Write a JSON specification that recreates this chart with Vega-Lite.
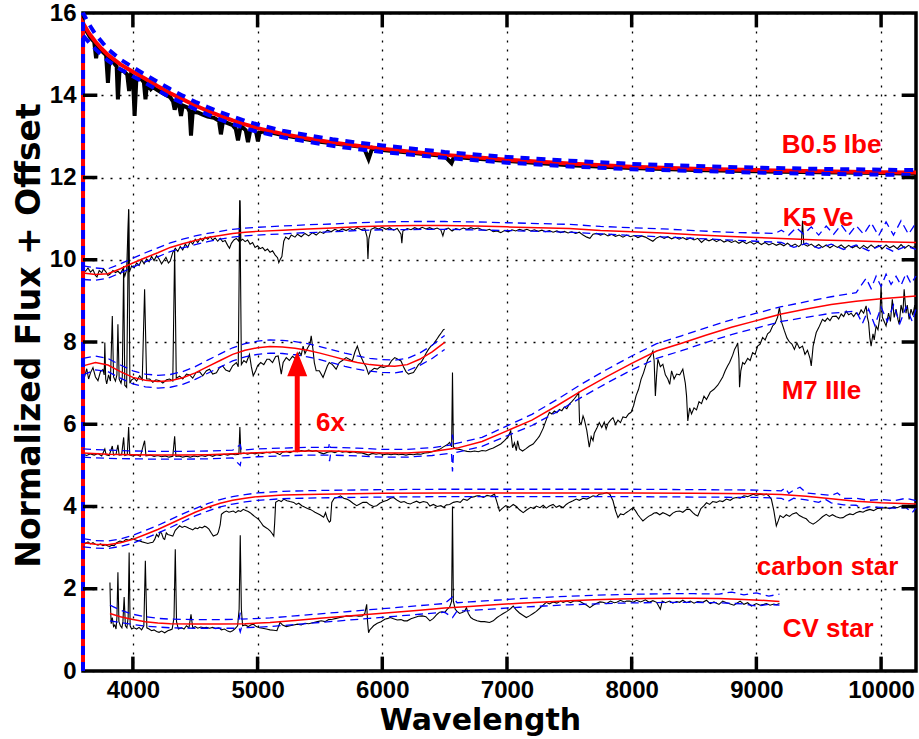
{
"$schema": "https://vega.github.io/schema/vega-lite/v6.json",
"width": 833, "height": 658,
"autosize": {"type": "none"},
"padding": {"left": 83, "top": 13, "right": 3, "bottom": 68},
"background": "white",
"config": {"view": {"stroke": "black", "strokeWidth": 3.5}},
"datasets": {
"obs": [
{"s":"B","x":3600,"y":15.72},{"s":"B","x":3630,"y":15.55},{"s":"B","x":3660,"y":15.4},{"s":"B","x":3690,"y":15.3},{"s":"B","x":3705,"y":14.9},{"s":"B","x":3720,"y":15.2},{"s":"B","x":3760,"y":15.05},{"s":"B","x":3785,"y":14.98},{"s":"B","x":3800,"y":14.3},{"s":"B","x":3812,"y":14.9},{"s":"B","x":3850,"y":14.78},{"s":"B","x":3870,"y":14.7},{"s":"B","x":3880,"y":13.9},{"s":"B","x":3893,"y":14.62},{"s":"B","x":3930,"y":14.58},{"s":"B","x":3955,"y":14.5},{"s":"B","x":3970,"y":14.1},{"s":"B","x":3985,"y":14.5},{"s":"B","x":4000,"y":14.45},{"s":"B","x":4014,"y":13.5},{"s":"B","x":4028,"y":14.4},{"s":"B","x":4060,"y":14.42},{"s":"B","x":4088,"y":14.32},{"s":"B","x":4101,"y":13.9},{"s":"B","x":4114,"y":14.3},{"s":"B","x":4144,"y":14.15},{"s":"B","x":4160,"y":14.2},{"s":"B","x":4200,"y":14.12},{"s":"B","x":4250,"y":14.03},{"s":"B","x":4300,"y":13.95},{"s":"B","x":4322,"y":13.85},{"s":"B","x":4335,"y":13.65},{"s":"B","x":4350,"y":13.82},{"s":"B","x":4370,"y":13.78},{"s":"B","x":4386,"y":13.5},{"s":"B","x":4400,"y":13.75},{"s":"B","x":4440,"y":13.7},{"s":"B","x":4455,"y":13.6},{"s":"B","x":4466,"y":13.02},{"s":"B","x":4480,"y":13.6},{"s":"B","x":4520,"y":13.58},{"s":"B","x":4560,"y":13.53},{"s":"B","x":4600,"y":13.48},{"s":"B","x":4650,"y":13.45},{"s":"B","x":4690,"y":13.38},{"s":"B","x":4706,"y":13.05},{"s":"B","x":4722,"y":13.36},{"s":"B","x":4760,"y":13.32},{"s":"B","x":4800,"y":13.27},{"s":"B","x":4825,"y":13.18},{"s":"B","x":4843,"y":12.9},{"s":"B","x":4860,"y":13.18},{"s":"B","x":4880,"y":13.22},{"s":"B","x":4905,"y":13.15},{"s":"B","x":4923,"y":12.86},{"s":"B","x":4940,"y":13.12},{"s":"B","x":4970,"y":13.18},{"s":"B","x":4990,"y":13.08},{"s":"B","x":5003,"y":12.88},{"s":"B","x":5015,"y":13.08},{"s":"B","x":5040,"y":13.12},{"s":"B","x":5060,"y":13.1},{"s":"B","x":5100,"y":13.1},{"s":"B","x":5200,"y":13.03},{"s":"B","x":5500,"y":12.87},{"s":"B","x":5850,"y":12.74},{"s":"B","x":5890,"y":12.45},{"s":"B","x":5920,"y":12.72},{"s":"B","x":6000,"y":12.67},{"s":"B","x":6500,"y":12.52},{"s":"B","x":6555,"y":12.35},{"s":"B","x":6575,"y":12.5},{"s":"B","x":7000,"y":12.4},{"s":"B","x":7500,"y":12.3},{"s":"B","x":8000,"y":12.23},{"s":"B","x":8500,"y":12.18},{"s":"B","x":9000,"y":12.15},{"s":"B","x":9500,"y":12.13},{"s":"B","x":10000,"y":12.11},{"s":"B","x":10280,"y":12.09},
{"s":"K","x":3600,"y":9.77},{"s":"K","x":3620,"y":9.72},{"s":"K","x":3640,"y":9.8},{"s":"K","x":3660,"y":9.7},{"s":"K","x":3680,"y":9.76},{"s":"K","x":3700,"y":9.62},{"s":"K","x":3712,"y":9.58},{"s":"K","x":3730,"y":9.74},{"s":"K","x":3750,"y":9.68},{"s":"K","x":3765,"y":9.78},{"s":"K","x":3785,"y":9.7},{"s":"K","x":3800,"y":9.62},{"s":"K","x":3820,"y":9.66},{"s":"K","x":3840,"y":9.74},{"s":"K","x":3860,"y":9.69},{"s":"K","x":3880,"y":9.72},{"s":"K","x":3900,"y":9.66},{"s":"K","x":3920,"y":9.78},{"s":"K","x":3935,"y":9.6},{"s":"K","x":3950,"y":9.75},{"s":"K","x":3966,"y":11.22},{"s":"K","x":3972,"y":9.7},{"s":"K","x":3990,"y":9.85},{"s":"K","x":4010,"y":9.8},{"s":"K","x":4030,"y":9.92},{"s":"K","x":4050,"y":9.86},{"s":"K","x":4070,"y":10.0},{"s":"K","x":4090,"y":9.9},{"s":"K","x":4110,"y":10.02},{"s":"K","x":4130,"y":9.95},{"s":"K","x":4150,"y":10.08},{"s":"K","x":4170,"y":9.98},{"s":"K","x":4190,"y":10.1},{"s":"K","x":4210,"y":10.02},{"s":"K","x":4230,"y":9.9},{"s":"K","x":4245,"y":9.97},{"s":"K","x":4265,"y":10.06},{"s":"K","x":4285,"y":9.92},{"s":"K","x":4300,"y":9.97},{"s":"K","x":4320,"y":10.18},{"s":"K","x":4340,"y":10.28},{"s":"K","x":4360,"y":10.2},{"s":"K","x":4380,"y":10.32},{"s":"K","x":4400,"y":10.24},{"s":"K","x":4420,"y":10.38},{"s":"K","x":4440,"y":10.3},{"s":"K","x":4460,"y":10.45},{"s":"K","x":4480,"y":10.38},{"s":"K","x":4500,"y":10.5},{"s":"K","x":4520,"y":10.42},{"s":"K","x":4540,"y":10.52},{"s":"K","x":4560,"y":10.46},{"s":"K","x":4580,"y":10.55},{"s":"K","x":4600,"y":10.5},{"s":"K","x":4620,"y":10.56},{"s":"K","x":4640,"y":10.48},{"s":"K","x":4660,"y":10.53},{"s":"K","x":4680,"y":10.45},{"s":"K","x":4700,"y":10.52},{"s":"K","x":4720,"y":10.44},{"s":"K","x":4740,"y":10.47},{"s":"K","x":4760,"y":10.35},{"s":"K","x":4775,"y":10.28},{"s":"K","x":4790,"y":10.4},{"s":"K","x":4810,"y":10.48},{"s":"K","x":4830,"y":10.52},{"s":"K","x":4850,"y":10.45},{"s":"K","x":4858,"y":11.45},{"s":"K","x":4866,"y":10.46},{"s":"K","x":4880,"y":10.5},{"s":"K","x":4900,"y":10.44},{"s":"K","x":4920,"y":10.48},{"s":"K","x":4940,"y":10.38},{"s":"K","x":4960,"y":10.42},{"s":"K","x":4980,"y":10.3},{"s":"K","x":5000,"y":10.34},{"s":"K","x":5020,"y":10.27},{"s":"K","x":5040,"y":10.3},{"s":"K","x":5060,"y":10.22},{"s":"K","x":5080,"y":10.26},{"s":"K","x":5100,"y":10.18},{"s":"K","x":5120,"y":10.22},{"s":"K","x":5140,"y":10.12},{"s":"K","x":5160,"y":10.05},{"s":"K","x":5170,"y":9.93},{"s":"K","x":5180,"y":10.0},{"s":"K","x":5195,"y":10.08},{"s":"K","x":5210,"y":10.45},{"s":"K","x":5225,"y":10.55},{"s":"K","x":5250,"y":10.5},{"s":"K","x":5270,"y":10.6},{"s":"K","x":5300,"y":10.55},{"s":"K","x":5320,"y":10.62},{"s":"K","x":5350,"y":10.56},{"s":"K","x":5380,"y":10.64},{"s":"K","x":5410,"y":10.58},{"s":"K","x":5440,"y":10.66},{"s":"K","x":5470,"y":10.6},{"s":"K","x":5500,"y":10.68},{"s":"K","x":5530,"y":10.64},{"s":"K","x":5560,"y":10.72},{"s":"K","x":5590,"y":10.68},{"s":"K","x":5620,"y":10.74},{"s":"K","x":5650,"y":10.7},{"s":"K","x":5680,"y":10.75},{"s":"K","x":5710,"y":10.71},{"s":"K","x":5740,"y":10.76},{"s":"K","x":5770,"y":10.72},{"s":"K","x":5800,"y":10.78},{"s":"K","x":5830,"y":10.73},{"s":"K","x":5860,"y":10.76},{"s":"K","x":5878,"y":10.55},{"s":"K","x":5885,"y":10.02},{"s":"K","x":5892,"y":10.5},{"s":"K","x":5910,"y":10.74},{"s":"K","x":5940,"y":10.78},{"s":"K","x":5970,"y":10.75},{"s":"K","x":6000,"y":10.79},{"s":"K","x":6030,"y":10.74},{"s":"K","x":6060,"y":10.78},{"s":"K","x":6090,"y":10.72},{"s":"K","x":6120,"y":10.76},{"s":"K","x":6150,"y":10.62},{"s":"K","x":6157,"y":10.4},{"s":"K","x":6165,"y":10.7},{"s":"K","x":6200,"y":10.76},{"s":"K","x":6230,"y":10.73},{"s":"K","x":6260,"y":10.78},{"s":"K","x":6290,"y":10.74},{"s":"K","x":6320,"y":10.79},{"s":"K","x":6350,"y":10.75},{"s":"K","x":6380,"y":10.78},{"s":"K","x":6410,"y":10.74},{"s":"K","x":6440,"y":10.77},{"s":"K","x":6470,"y":10.72},{"s":"K","x":6486,"y":10.58},{"s":"K","x":6500,"y":10.74},{"s":"K","x":6530,"y":10.77},{"s":"K","x":6560,"y":10.7},{"s":"K","x":6590,"y":10.76},{"s":"K","x":6620,"y":10.73},{"s":"K","x":6650,"y":10.77},{"s":"K","x":6680,"y":10.74},{"s":"K","x":6710,"y":10.78},{"s":"K","x":6740,"y":10.75},{"s":"K","x":6770,"y":10.77},{"s":"K","x":6800,"y":10.73},{"s":"K","x":6830,"y":10.71},{"s":"K","x":6860,"y":10.74},{"s":"K","x":6890,"y":10.68},{"s":"K","x":6920,"y":10.7},{"s":"K","x":6950,"y":10.66},{"s":"K","x":6980,"y":10.71},{"s":"K","x":7010,"y":10.68},{"s":"K","x":7040,"y":10.73},{"s":"K","x":7070,"y":10.7},{"s":"K","x":7100,"y":10.74},{"s":"K","x":7130,"y":10.71},{"s":"K","x":7160,"y":10.74},{"s":"K","x":7190,"y":10.7},{"s":"K","x":7220,"y":10.73},{"s":"K","x":7250,"y":10.69},{"s":"K","x":7280,"y":10.72},{"s":"K","x":7310,"y":10.68},{"s":"K","x":7340,"y":10.71},{"s":"K","x":7370,"y":10.67},{"s":"K","x":7400,"y":10.7},{"s":"K","x":7430,"y":10.66},{"s":"K","x":7460,"y":10.69},{"s":"K","x":7490,"y":10.65},{"s":"K","x":7520,"y":10.68},{"s":"K","x":7550,"y":10.64},{"s":"K","x":7580,"y":10.67},{"s":"K","x":7610,"y":10.6},{"s":"K","x":7640,"y":10.55},{"s":"K","x":7665,"y":10.52},{"s":"K","x":7690,"y":10.62},{"s":"K","x":7720,"y":10.64},{"s":"K","x":7750,"y":10.6},{"s":"K","x":7780,"y":10.63},{"s":"K","x":7810,"y":10.58},{"s":"K","x":7840,"y":10.62},{"s":"K","x":7870,"y":10.57},{"s":"K","x":7900,"y":10.6},{"s":"K","x":7930,"y":10.55},{"s":"K","x":7960,"y":10.6},{"s":"K","x":7990,"y":10.56},{"s":"K","x":8020,"y":10.59},{"s":"K","x":8050,"y":10.54},{"s":"K","x":8080,"y":10.58},{"s":"K","x":8110,"y":10.55},{"s":"K","x":8140,"y":10.5},{"s":"K","x":8170,"y":10.45},{"s":"K","x":8200,"y":10.53},{"s":"K","x":8230,"y":10.57},{"s":"K","x":8260,"y":10.52},{"s":"K","x":8290,"y":10.56},{"s":"K","x":8320,"y":10.51},{"s":"K","x":8350,"y":10.55},{"s":"K","x":8380,"y":10.5},{"s":"K","x":8410,"y":10.54},{"s":"K","x":8440,"y":10.49},{"s":"K","x":8470,"y":10.53},{"s":"K","x":8500,"y":10.48},{"s":"K","x":8530,"y":10.52},{"s":"K","x":8560,"y":10.42},{"s":"K","x":8590,"y":10.5},{"s":"K","x":8620,"y":10.46},{"s":"K","x":8650,"y":10.5},{"s":"K","x":8680,"y":10.44},{"s":"K","x":8710,"y":10.49},{"s":"K","x":8740,"y":10.43},{"s":"K","x":8770,"y":10.47},{"s":"K","x":8800,"y":10.42},{"s":"K","x":8830,"y":10.46},{"s":"K","x":8860,"y":10.4},{"s":"K","x":8890,"y":10.45},{"s":"K","x":8920,"y":10.39},{"s":"K","x":8950,"y":10.44},{"s":"K","x":8980,"y":10.38},{"s":"K","x":9010,"y":10.43},{"s":"K","x":9040,"y":10.37},{"s":"K","x":9070,"y":10.42},{"s":"K","x":9100,"y":10.36},{"s":"K","x":9130,"y":10.4},{"s":"K","x":9160,"y":10.35},{"s":"K","x":9190,"y":10.39},{"s":"K","x":9220,"y":10.34},{"s":"K","x":9250,"y":10.4},{"s":"K","x":9280,"y":10.33},{"s":"K","x":9310,"y":10.38},{"s":"K","x":9340,"y":10.32},{"s":"K","x":9360,"y":10.37},{"s":"K","x":9370,"y":10.95},{"s":"K","x":9380,"y":10.38},{"s":"K","x":9410,"y":10.33},{"s":"K","x":9440,"y":10.38},{"s":"K","x":9470,"y":10.31},{"s":"K","x":9500,"y":10.37},{"s":"K","x":9530,"y":10.3},{"s":"K","x":9560,"y":10.36},{"s":"K","x":9590,"y":10.29},{"s":"K","x":9620,"y":10.35},{"s":"K","x":9650,"y":10.3},{"s":"K","x":9680,"y":10.36},{"s":"K","x":9710,"y":10.28},{"s":"K","x":9740,"y":10.35},{"s":"K","x":9770,"y":10.29},{"s":"K","x":9800,"y":10.34},{"s":"K","x":9830,"y":10.27},{"s":"K","x":9860,"y":10.35},{"s":"K","x":9890,"y":10.28},{"s":"K","x":9920,"y":10.36},{"s":"K","x":9950,"y":10.29},{"s":"K","x":9980,"y":10.35},{"s":"K","x":10010,"y":10.27},{"s":"K","x":10040,"y":10.36},{"s":"K","x":10070,"y":10.29},{"s":"K","x":10100,"y":10.34},{"s":"K","x":10130,"y":10.27},{"s":"K","x":10160,"y":10.37},{"s":"K","x":10190,"y":10.28},{"s":"K","x":10220,"y":10.35},{"s":"K","x":10250,"y":10.3},{"s":"K","x":10280,"y":10.33},
{"s":"M","x":3600,"y":5.27},{"s":"M","x":3630,"y":5.24},{"s":"M","x":3660,"y":5.28},{"s":"M","x":3690,"y":5.25},{"s":"M","x":3720,"y":5.29},{"s":"M","x":3750,"y":5.23},{"s":"M","x":3775,"y":5.4},{"s":"M","x":3785,"y":5.26},{"s":"M","x":3810,"y":5.24},{"s":"M","x":3835,"y":5.47},{"s":"M","x":3845,"y":5.25},{"s":"M","x":3865,"y":5.27},{"s":"M","x":3880,"y":5.5},{"s":"M","x":3890,"y":5.25},{"s":"M","x":3910,"y":5.26},{"s":"M","x":3926,"y":5.68},{"s":"M","x":3935,"y":5.24},{"s":"M","x":3955,"y":5.26},{"s":"M","x":3966,"y":5.93},{"s":"M","x":3975,"y":5.25},{"s":"M","x":4000,"y":5.23},{"s":"M","x":4030,"y":5.26},{"s":"M","x":4060,"y":5.22},{"s":"M","x":4094,"y":5.6},{"s":"M","x":4105,"y":5.23},{"s":"M","x":4140,"y":5.25},{"s":"M","x":4170,"y":5.22},{"s":"M","x":4200,"y":5.24},{"s":"M","x":4230,"y":5.21},{"s":"M","x":4260,"y":5.23},{"s":"M","x":4290,"y":5.2},{"s":"M","x":4320,"y":5.22},{"s":"M","x":4335,"y":5.71},{"s":"M","x":4345,"y":5.22},{"s":"M","x":4370,"y":5.23},{"s":"M","x":4400,"y":5.2},{"s":"M","x":4430,"y":5.22},{"s":"M","x":4460,"y":5.2},{"s":"M","x":4490,"y":5.23},{"s":"M","x":4520,"y":5.21},{"s":"M","x":4550,"y":5.24},{"s":"M","x":4580,"y":5.22},{"s":"M","x":4610,"y":5.25},{"s":"M","x":4640,"y":5.22},{"s":"M","x":4670,"y":5.26},{"s":"M","x":4700,"y":5.24},{"s":"M","x":4730,"y":5.27},{"s":"M","x":4760,"y":5.25},{"s":"M","x":4790,"y":5.28},{"s":"M","x":4820,"y":5.26},{"s":"M","x":4850,"y":5.27},{"s":"M","x":4858,"y":5.93},{"s":"M","x":4866,"y":5.28},{"s":"M","x":4890,"y":5.3},{"s":"M","x":4920,"y":5.27},{"s":"M","x":4950,"y":5.3},{"s":"M","x":4980,"y":5.28},{"s":"M","x":5010,"y":5.31},{"s":"M","x":5040,"y":5.29},{"s":"M","x":5070,"y":5.32},{"s":"M","x":5100,"y":5.3},{"s":"M","x":5130,"y":5.33},{"s":"M","x":5160,"y":5.29},{"s":"M","x":5180,"y":5.26},{"s":"M","x":5200,"y":5.32},{"s":"M","x":5230,"y":5.34},{"s":"M","x":5260,"y":5.31},{"s":"M","x":5290,"y":5.35},{"s":"M","x":5320,"y":5.33},{"s":"M","x":5350,"y":5.36},{"s":"M","x":5380,"y":5.34},{"s":"M","x":5410,"y":5.37},{"s":"M","x":5440,"y":5.34},{"s":"M","x":5470,"y":5.36},{"s":"M","x":5500,"y":5.31},{"s":"M","x":5530,"y":5.28},{"s":"M","x":5560,"y":5.32},{"s":"M","x":5590,"y":5.34},{"s":"M","x":5620,"y":5.31},{"s":"M","x":5650,"y":5.35},{"s":"M","x":5680,"y":5.32},{"s":"M","x":5710,"y":5.34},{"s":"M","x":5740,"y":5.31},{"s":"M","x":5770,"y":5.33},{"s":"M","x":5800,"y":5.3},{"s":"M","x":5830,"y":5.31},{"s":"M","x":5860,"y":5.28},{"s":"M","x":5890,"y":5.25},{"s":"M","x":5920,"y":5.29},{"s":"M","x":5950,"y":5.27},{"s":"M","x":5980,"y":5.29},{"s":"M","x":6010,"y":5.26},{"s":"M","x":6040,"y":5.28},{"s":"M","x":6070,"y":5.26},{"s":"M","x":6100,"y":5.28},{"s":"M","x":6130,"y":5.26},{"s":"M","x":6160,"y":5.27},{"s":"M","x":6190,"y":5.25},{"s":"M","x":6220,"y":5.27},{"s":"M","x":6250,"y":5.26},{"s":"M","x":6280,"y":5.28},{"s":"M","x":6310,"y":5.27},{"s":"M","x":6340,"y":5.3},{"s":"M","x":6370,"y":5.31},{"s":"M","x":6400,"y":5.33},{"s":"M","x":6430,"y":5.36},{"s":"M","x":6460,"y":5.39},{"s":"M","x":6490,"y":5.45},{"s":"M","x":6520,"y":5.5},{"s":"M","x":6540,"y":5.56},{"s":"M","x":6556,"y":5.45},{"s":"M","x":6563,"y":7.26},{"s":"M","x":6570,"y":5.45},{"s":"M","x":6590,"y":5.4},{"s":"M","x":6620,"y":5.39},{"s":"M","x":6650,"y":5.36},{"s":"M","x":6680,"y":5.34},{"s":"M","x":6710,"y":5.33},{"s":"M","x":6740,"y":5.35},{"s":"M","x":6770,"y":5.33},{"s":"M","x":6800,"y":5.36},{"s":"M","x":6830,"y":5.35},{"s":"M","x":6860,"y":5.39},{"s":"M","x":6890,"y":5.42},{"s":"M","x":6920,"y":5.47},{"s":"M","x":6950,"y":5.52},{"s":"M","x":6980,"y":5.6},{"s":"M","x":7010,"y":5.7},{"s":"M","x":7030,"y":5.84},{"s":"M","x":7045,"y":5.43},{"s":"M","x":7060,"y":5.55},{"s":"M","x":7075,"y":5.36},{"s":"M","x":7085,"y":5.6},{"s":"M","x":7100,"y":5.4},{"s":"M","x":7125,"y":5.35},{"s":"M","x":7150,"y":5.4},{"s":"M","x":7180,"y":5.47},{"s":"M","x":7210,"y":5.52},{"s":"M","x":7240,"y":5.63},{"s":"M","x":7260,"y":5.71},{"s":"M","x":7290,"y":5.9},{"s":"M","x":7320,"y":6.15},{"s":"M","x":7340,"y":6.29},{"s":"M","x":7360,"y":6.25},{"s":"M","x":7380,"y":6.32},{"s":"M","x":7400,"y":6.28},{"s":"M","x":7420,"y":6.36},{"s":"M","x":7440,"y":6.33},{"s":"M","x":7460,"y":6.42},{"s":"M","x":7480,"y":6.38},{"s":"M","x":7500,"y":6.49},{"s":"M","x":7520,"y":6.55},{"s":"M","x":7540,"y":6.62},{"s":"M","x":7560,"y":6.7},{"s":"M","x":7575,"y":6.77},{"s":"M","x":7582,"y":6.05},{"s":"M","x":7595,"y":6.0},{"s":"M","x":7610,"y":6.2},{"s":"M","x":7620,"y":6.12},{"s":"M","x":7640,"y":5.85},{"s":"M","x":7660,"y":5.44},{"s":"M","x":7675,"y":5.7},{"s":"M","x":7690,"y":5.6},{"s":"M","x":7700,"y":5.78},{"s":"M","x":7720,"y":5.9},{"s":"M","x":7740,"y":6.04},{"s":"M","x":7760,"y":5.92},{"s":"M","x":7780,"y":6.05},{"s":"M","x":7795,"y":5.88},{"s":"M","x":7810,"y":6.02},{"s":"M","x":7830,"y":6.1},{"s":"M","x":7850,"y":6.16},{"s":"M","x":7870,"y":6.0},{"s":"M","x":7890,"y":6.1},{"s":"M","x":7910,"y":6.04},{"s":"M","x":7930,"y":6.18},{"s":"M","x":7955,"y":6.16},{"s":"M","x":7975,"y":6.25},{"s":"M","x":7995,"y":6.29},{"s":"M","x":8015,"y":6.45},{"s":"M","x":8035,"y":6.69},{"s":"M","x":8055,"y":6.85},{"s":"M","x":8075,"y":7.09},{"s":"M","x":8095,"y":7.25},{"s":"M","x":8115,"y":7.45},{"s":"M","x":8130,"y":7.58},{"s":"M","x":8150,"y":7.65},{"s":"M","x":8170,"y":7.78},{"s":"M","x":8180,"y":7.55},{"s":"M","x":8190,"y":6.69},{"s":"M","x":8200,"y":7.2},{"s":"M","x":8210,"y":7.58},{"s":"M","x":8230,"y":7.4},{"s":"M","x":8250,"y":7.46},{"s":"M","x":8270,"y":7.2},{"s":"M","x":8290,"y":7.1},{"s":"M","x":8305,"y":6.97},{"s":"M","x":8320,"y":7.3},{"s":"M","x":8340,"y":7.1},{"s":"M","x":8360,"y":7.22},{"s":"M","x":8385,"y":7.2},{"s":"M","x":8410,"y":7.34},{"s":"M","x":8430,"y":7.0},{"s":"M","x":8440,"y":6.69},{"s":"M","x":8450,"y":6.08},{"s":"M","x":8465,"y":6.4},{"s":"M","x":8480,"y":6.25},{"s":"M","x":8500,"y":6.4},{"s":"M","x":8520,"y":6.35},{"s":"M","x":8540,"y":6.55},{"s":"M","x":8560,"y":6.5},{"s":"M","x":8580,"y":6.68},{"s":"M","x":8600,"y":6.6},{"s":"M","x":8630,"y":6.78},{"s":"M","x":8660,"y":6.85},{"s":"M","x":8690,"y":6.95},{"s":"M","x":8705,"y":7.02},{"s":"M","x":8730,"y":7.15},{"s":"M","x":8750,"y":7.3},{"s":"M","x":8770,"y":7.42},{"s":"M","x":8785,"y":7.5},{"s":"M","x":8810,"y":7.68},{"s":"M","x":8825,"y":7.82},{"s":"M","x":8840,"y":7.9},{"s":"M","x":8850,"y":7.98},{"s":"M","x":8860,"y":7.6},{"s":"M","x":8865,"y":6.9},{"s":"M","x":8875,"y":7.3},{"s":"M","x":8890,"y":7.5},{"s":"M","x":8905,"y":7.46},{"s":"M","x":8930,"y":7.6},{"s":"M","x":8950,"y":7.55},{"s":"M","x":8970,"y":7.74},{"s":"M","x":8990,"y":7.7},{"s":"M","x":9010,"y":7.9},{"s":"M","x":9030,"y":7.95},{"s":"M","x":9050,"y":8.11},{"s":"M","x":9070,"y":8.05},{"s":"M","x":9090,"y":8.2},{"s":"M","x":9110,"y":8.25},{"s":"M","x":9130,"y":8.39},{"s":"M","x":9150,"y":8.45},{"s":"M","x":9170,"y":8.6},{"s":"M","x":9185,"y":8.84},{"s":"M","x":9200,"y":8.5},{"s":"M","x":9225,"y":8.27},{"s":"M","x":9245,"y":8.1},{"s":"M","x":9265,"y":8.0},{"s":"M","x":9285,"y":7.95},{"s":"M","x":9305,"y":7.82},{"s":"M","x":9325,"y":7.98},{"s":"M","x":9345,"y":7.85},{"s":"M","x":9370,"y":7.9},{"s":"M","x":9390,"y":7.7},{"s":"M","x":9410,"y":7.8},{"s":"M","x":9430,"y":7.6},{"s":"M","x":9440,"y":7.42},{"s":"M","x":9455,"y":7.9},{"s":"M","x":9470,"y":8.1},{"s":"M","x":9480,"y":8.23},{"s":"M","x":9500,"y":8.35},{"s":"M","x":9515,"y":8.45},{"s":"M","x":9530,"y":8.55},{"s":"M","x":9550,"y":8.5},{"s":"M","x":9570,"y":8.58},{"s":"M","x":9590,"y":8.52},{"s":"M","x":9610,"y":8.62},{"s":"M","x":9640,"y":8.63},{"s":"M","x":9660,"y":8.56},{"s":"M","x":9680,"y":8.68},{"s":"M","x":9700,"y":8.62},{"s":"M","x":9720,"y":8.75},{"s":"M","x":9740,"y":8.66},{"s":"M","x":9760,"y":8.7},{"s":"M","x":9780,"y":8.62},{"s":"M","x":9800,"y":8.71},{"s":"M","x":9820,"y":8.65},{"s":"M","x":9840,"y":8.78},{"s":"M","x":9860,"y":8.7},{"s":"M","x":9880,"y":8.88},{"s":"M","x":9890,"y":8.6},{"s":"M","x":9900,"y":8.47},{"s":"M","x":9910,"y":8.1},{"s":"M","x":9920,"y":7.9},{"s":"M","x":9935,"y":8.2},{"s":"M","x":9945,"y":8.05},{"s":"M","x":9960,"y":8.39},{"s":"M","x":9975,"y":8.3},{"s":"M","x":9990,"y":8.6},{"s":"M","x":10000,"y":9.36},{"s":"M","x":10010,"y":8.6},{"s":"M","x":10025,"y":8.5},{"s":"M","x":10040,"y":8.39},{"s":"M","x":10060,"y":8.7},{"s":"M","x":10075,"y":8.5},{"s":"M","x":10090,"y":9.04},{"s":"M","x":10105,"y":8.6},{"s":"M","x":10120,"y":8.8},{"s":"M","x":10135,"y":8.55},{"s":"M","x":10145,"y":8.43},{"s":"M","x":10160,"y":8.9},{"s":"M","x":10175,"y":8.7},{"s":"M","x":10185,"y":9.28},{"s":"M","x":10200,"y":8.7},{"s":"M","x":10210,"y":8.9},{"s":"M","x":10225,"y":8.55},{"s":"M","x":10240,"y":8.8},{"s":"M","x":10255,"y":8.65},{"s":"M","x":10270,"y":8.9},{"s":"M","x":10280,"y":8.63},
{"s":"X","x":3600,"y":7.3},{"s":"X","x":3615,"y":7.18},{"s":"X","x":3630,"y":7.35},{"s":"X","x":3645,"y":7.1},{"s":"X","x":3660,"y":7.25},{"s":"X","x":3680,"y":7.38},{"s":"X","x":3700,"y":7.15},{"s":"X","x":3720,"y":7.06},{"s":"X","x":3740,"y":7.28},{"s":"X","x":3760,"y":7.33},{"s":"X","x":3770,"y":7.2},{"s":"X","x":3775,"y":7.99},{"s":"X","x":3782,"y":7.1},{"s":"X","x":3790,"y":6.98},{"s":"X","x":3805,"y":7.2},{"s":"X","x":3820,"y":7.05},{"s":"X","x":3835,"y":8.63},{"s":"X","x":3845,"y":7.15},{"s":"X","x":3860,"y":7.05},{"s":"X","x":3872,"y":7.2},{"s":"X","x":3880,"y":8.43},{"s":"X","x":3890,"y":7.1},{"s":"X","x":3905,"y":7.0},{"s":"X","x":3915,"y":7.15},{"s":"X","x":3926,"y":9.85},{"s":"X","x":3935,"y":6.95},{"s":"X","x":3950,"y":6.9},{"s":"X","x":3966,"y":11.23},{"s":"X","x":3976,"y":7.0},{"s":"X","x":3990,"y":7.08},{"s":"X","x":4010,"y":7.12},{"s":"X","x":4030,"y":7.05},{"s":"X","x":4055,"y":7.18},{"s":"X","x":4075,"y":7.08},{"s":"X","x":4094,"y":9.28},{"s":"X","x":4110,"y":7.1},{"s":"X","x":4135,"y":7.1},{"s":"X","x":4160,"y":7.02},{"s":"X","x":4185,"y":7.08},{"s":"X","x":4215,"y":7.06},{"s":"X","x":4240,"y":7.0},{"s":"X","x":4270,"y":7.08},{"s":"X","x":4295,"y":7.1},{"s":"X","x":4320,"y":7.05},{"s":"X","x":4335,"y":10.25},{"s":"X","x":4348,"y":7.12},{"s":"X","x":4375,"y":7.17},{"s":"X","x":4400,"y":7.1},{"s":"X","x":4430,"y":7.22},{"s":"X","x":4455,"y":7.2},{"s":"X","x":4480,"y":7.12},{"s":"X","x":4505,"y":7.25},{"s":"X","x":4535,"y":7.28},{"s":"X","x":4560,"y":7.18},{"s":"X","x":4590,"y":7.3},{"s":"X","x":4615,"y":7.34},{"s":"X","x":4640,"y":7.22},{"s":"X","x":4670,"y":7.25},{"s":"X","x":4695,"y":7.38},{"s":"X","x":4720,"y":7.42},{"s":"X","x":4745,"y":7.32},{"s":"X","x":4775,"y":7.28},{"s":"X","x":4800,"y":7.42},{"s":"X","x":4830,"y":7.5},{"s":"X","x":4845,"y":7.4},{"s":"X","x":4858,"y":11.43},{"s":"X","x":4870,"y":7.45},{"s":"X","x":4890,"y":7.55},{"s":"X","x":4910,"y":7.5},{"s":"X","x":4935,"y":7.7},{"s":"X","x":4950,"y":7.4},{"s":"X","x":4965,"y":7.18},{"s":"X","x":4985,"y":7.3},{"s":"X","x":5000,"y":7.42},{"s":"X","x":5025,"y":7.5},{"s":"X","x":5050,"y":7.45},{"s":"X","x":5075,"y":7.58},{"s":"X","x":5095,"y":7.58},{"s":"X","x":5120,"y":7.5},{"s":"X","x":5145,"y":7.65},{"s":"X","x":5165,"y":7.66},{"s":"X","x":5180,"y":7.4},{"s":"X","x":5190,"y":7.22},{"s":"X","x":5205,"y":7.5},{"s":"X","x":5230,"y":7.62},{"s":"X","x":5255,"y":7.55},{"s":"X","x":5280,"y":7.65},{"s":"X","x":5310,"y":7.58},{"s":"X","x":5335,"y":7.75},{"s":"X","x":5350,"y":7.68},{"s":"X","x":5365,"y":7.9},{"s":"X","x":5380,"y":7.72},{"s":"X","x":5400,"y":7.85},{"s":"X","x":5420,"y":7.95},{"s":"X","x":5430,"y":8.15},{"s":"X","x":5445,"y":7.8},{"s":"X","x":5455,"y":7.5},{"s":"X","x":5470,"y":7.3},{"s":"X","x":5495,"y":7.3},{"s":"X","x":5525,"y":7.14},{"s":"X","x":5545,"y":7.3},{"s":"X","x":5560,"y":7.42},{"s":"X","x":5575,"y":7.5},{"s":"X","x":5600,"y":7.45},{"s":"X","x":5630,"y":7.34},{"s":"X","x":5655,"y":7.5},{"s":"X","x":5680,"y":7.55},{"s":"X","x":5710,"y":7.62},{"s":"X","x":5735,"y":7.58},{"s":"X","x":5760,"y":7.54},{"s":"X","x":5780,"y":7.75},{"s":"X","x":5800,"y":7.9},{"s":"X","x":5820,"y":7.7},{"s":"X","x":5850,"y":7.5},{"s":"X","x":5870,"y":7.4},{"s":"X","x":5890,"y":7.22},{"s":"X","x":5910,"y":7.3},{"s":"X","x":5935,"y":7.36},{"s":"X","x":5960,"y":7.34},{"s":"X","x":5985,"y":7.4},{"s":"X","x":6010,"y":7.38},{"s":"X","x":6050,"y":7.42},{"s":"X","x":6075,"y":7.55},{"s":"X","x":6100,"y":7.62},{"s":"X","x":6125,"y":7.58},{"s":"X","x":6150,"y":7.54},{"s":"X","x":6170,"y":7.4},{"s":"X","x":6190,"y":7.28},{"s":"X","x":6210,"y":7.22},{"s":"X","x":6230,"y":7.24},{"s":"X","x":6250,"y":7.26},{"s":"X","x":6270,"y":7.35},{"s":"X","x":6290,"y":7.45},{"s":"X","x":6310,"y":7.5},{"s":"X","x":6330,"y":7.6},{"s":"X","x":6350,"y":7.72},{"s":"X","x":6370,"y":7.82},{"s":"X","x":6390,"y":7.9},{"s":"X","x":6410,"y":7.95},{"s":"X","x":6420,"y":7.99},{"s":"X","x":6440,"y":8.08},{"s":"X","x":6455,"y":8.15},{"s":"X","x":6475,"y":8.23},{"s":"X","x":6490,"y":8.3},{"s":"X","x":6500,"y":8.31},
{"s":"C","x":3600,"y":3.13},{"s":"C","x":3620,"y":3.1},{"s":"C","x":3640,"y":3.14},{"s":"C","x":3660,"y":3.09},{"s":"C","x":3680,"y":3.12},{"s":"C","x":3700,"y":3.08},{"s":"C","x":3720,"y":3.06},{"s":"C","x":3740,"y":3.09},{"s":"C","x":3760,"y":3.05},{"s":"C","x":3780,"y":3.07},{"s":"C","x":3800,"y":3.04},{"s":"C","x":3815,"y":3.03},{"s":"C","x":3830,"y":3.06},{"s":"C","x":3850,"y":3.05},{"s":"C","x":3870,"y":3.12},{"s":"C","x":3895,"y":3.16},{"s":"C","x":3920,"y":3.14},{"s":"C","x":3945,"y":3.2},{"s":"C","x":3970,"y":3.18},{"s":"C","x":3990,"y":3.22},{"s":"C","x":4010,"y":3.2},{"s":"C","x":4030,"y":3.18},{"s":"C","x":4055,"y":3.16},{"s":"C","x":4075,"y":3.14},{"s":"C","x":4100,"y":3.12},{"s":"C","x":4120,"y":3.1},{"s":"C","x":4140,"y":3.12},{"s":"C","x":4160,"y":3.13},{"s":"C","x":4175,"y":3.2},{"s":"C","x":4190,"y":3.32},{"s":"C","x":4205,"y":3.26},{"s":"C","x":4220,"y":3.38},{"s":"C","x":4230,"y":3.35},{"s":"C","x":4245,"y":3.22},{"s":"C","x":4255,"y":3.2},{"s":"C","x":4268,"y":3.36},{"s":"C","x":4280,"y":3.32},{"s":"C","x":4300,"y":3.3},{"s":"C","x":4320,"y":3.28},{"s":"C","x":4340,"y":3.42},{"s":"C","x":4355,"y":3.47},{"s":"C","x":4375,"y":3.53},{"s":"C","x":4395,"y":3.49},{"s":"C","x":4415,"y":3.52},{"s":"C","x":4430,"y":3.5},{"s":"C","x":4450,"y":3.47},{"s":"C","x":4465,"y":3.45},{"s":"C","x":4480,"y":3.43},{"s":"C","x":4500,"y":3.48},{"s":"C","x":4520,"y":3.46},{"s":"C","x":4535,"y":3.5},{"s":"C","x":4555,"y":3.48},{"s":"C","x":4575,"y":3.52},{"s":"C","x":4590,"y":3.5},{"s":"C","x":4610,"y":3.45},{"s":"C","x":4630,"y":3.35},{"s":"C","x":4645,"y":3.28},{"s":"C","x":4660,"y":3.3},{"s":"C","x":4675,"y":3.32},{"s":"C","x":4685,"y":3.37},{"s":"C","x":4700,"y":3.55},{"s":"C","x":4710,"y":3.81},{"s":"C","x":4730,"y":3.86},{"s":"C","x":4750,"y":3.89},{"s":"C","x":4770,"y":3.86},{"s":"C","x":4790,"y":3.88},{"s":"C","x":4805,"y":3.89},{"s":"C","x":4825,"y":3.85},{"s":"C","x":4845,"y":3.9},{"s":"C","x":4865,"y":3.88},{"s":"C","x":4885,"y":3.93},{"s":"C","x":4905,"y":3.9},{"s":"C","x":4925,"y":3.88},{"s":"C","x":4940,"y":3.85},{"s":"C","x":4960,"y":3.8},{"s":"C","x":4975,"y":3.76},{"s":"C","x":4990,"y":3.73},{"s":"C","x":5010,"y":3.68},{"s":"C","x":5030,"y":3.6},{"s":"C","x":5045,"y":3.53},{"s":"C","x":5065,"y":3.49},{"s":"C","x":5085,"y":3.45},{"s":"C","x":5100,"y":3.41},{"s":"C","x":5115,"y":3.35},{"s":"C","x":5130,"y":3.28},{"s":"C","x":5137,"y":3.6},{"s":"C","x":5145,"y":4.1},{"s":"C","x":5170,"y":4.15},{"s":"C","x":5190,"y":4.12},{"s":"C","x":5210,"y":4.18},{"s":"C","x":5235,"y":4.14},{"s":"C","x":5260,"y":4.12},{"s":"C","x":5290,"y":4.1},{"s":"C","x":5310,"y":4.05},{"s":"C","x":5330,"y":4.08},{"s":"C","x":5355,"y":4.02},{"s":"C","x":5380,"y":3.98},{"s":"C","x":5400,"y":3.95},{"s":"C","x":5420,"y":3.93},{"s":"C","x":5440,"y":3.9},{"s":"C","x":5460,"y":3.86},{"s":"C","x":5480,"y":3.83},{"s":"C","x":5500,"y":3.8},{"s":"C","x":5515,"y":3.77},{"s":"C","x":5530,"y":3.74},{"s":"C","x":5545,"y":3.85},{"s":"C","x":5560,"y":3.7},{"s":"C","x":5575,"y":3.62},{"s":"C","x":5585,"y":3.65},{"s":"C","x":5595,"y":4.1},{"s":"C","x":5615,"y":4.2},{"s":"C","x":5640,"y":4.22},{"s":"C","x":5665,"y":4.26},{"s":"C","x":5690,"y":4.2},{"s":"C","x":5715,"y":4.18},{"s":"C","x":5740,"y":4.14},{"s":"C","x":5765,"y":4.08},{"s":"C","x":5795,"y":4.02},{"s":"C","x":5820,"y":4.06},{"s":"C","x":5845,"y":4.1},{"s":"C","x":5875,"y":4.1},{"s":"C","x":5900,"y":4.04},{"s":"C","x":5930,"y":4.0},{"s":"C","x":5955,"y":4.02},{"s":"C","x":5980,"y":4.08},{"s":"C","x":6010,"y":4.12},{"s":"C","x":6040,"y":4.15},{"s":"C","x":6065,"y":4.2},{"s":"C","x":6090,"y":4.22},{"s":"C","x":6120,"y":4.15},{"s":"C","x":6150,"y":4.1},{"s":"C","x":6175,"y":4.12},{"s":"C","x":6200,"y":4.08},{"s":"C","x":6225,"y":4.06},{"s":"C","x":6250,"y":4.1},{"s":"C","x":6275,"y":4.13},{"s":"C","x":6300,"y":4.09},{"s":"C","x":6330,"y":4.12},{"s":"C","x":6360,"y":4.1},{"s":"C","x":6382,"y":4.01},{"s":"C","x":6410,"y":4.05},{"s":"C","x":6440,"y":4.0},{"s":"C","x":6470,"y":4.02},{"s":"C","x":6490,"y":3.98},{"s":"C","x":6515,"y":4.04},{"s":"C","x":6540,"y":4.05},{"s":"C","x":6570,"y":4.1},{"s":"C","x":6600,"y":4.12},{"s":"C","x":6625,"y":4.1},{"s":"C","x":6650,"y":4.18},{"s":"C","x":6680,"y":4.15},{"s":"C","x":6710,"y":4.22},{"s":"C","x":6740,"y":4.24},{"s":"C","x":6760,"y":4.26},{"s":"C","x":6780,"y":4.26},{"s":"C","x":6810,"y":4.22},{"s":"C","x":6840,"y":4.27},{"s":"C","x":6870,"y":4.25},{"s":"C","x":6900,"y":4.3},{"s":"C","x":6920,"y":4.1},{"s":"C","x":6940,"y":3.89},{"s":"C","x":6960,"y":3.95},{"s":"C","x":6990,"y":4.02},{"s":"C","x":7020,"y":3.98},{"s":"C","x":7050,"y":4.05},{"s":"C","x":7075,"y":4.0},{"s":"C","x":7100,"y":3.92},{"s":"C","x":7130,"y":3.85},{"s":"C","x":7160,"y":3.92},{"s":"C","x":7190,"y":3.98},{"s":"C","x":7215,"y":3.95},{"s":"C","x":7235,"y":4.01},{"s":"C","x":7265,"y":3.97},{"s":"C","x":7290,"y":4.03},{"s":"C","x":7315,"y":3.96},{"s":"C","x":7340,"y":4.01},{"s":"C","x":7370,"y":4.05},{"s":"C","x":7395,"y":3.98},{"s":"C","x":7420,"y":4.02},{"s":"C","x":7450,"y":3.97},{"s":"C","x":7475,"y":4.05},{"s":"C","x":7500,"y":4.1},{"s":"C","x":7530,"y":4.14},{"s":"C","x":7555,"y":4.18},{"s":"C","x":7580,"y":4.15},{"s":"C","x":7610,"y":4.2},{"s":"C","x":7640,"y":4.18},{"s":"C","x":7665,"y":4.22},{"s":"C","x":7690,"y":4.26},{"s":"C","x":7715,"y":4.24},{"s":"C","x":7740,"y":4.3},{"s":"C","x":7770,"y":4.31},{"s":"C","x":7800,"y":4.34},{"s":"C","x":7825,"y":4.3},{"s":"C","x":7850,"y":4.14},{"s":"C","x":7870,"y":3.9},{"s":"C","x":7890,"y":3.73},{"s":"C","x":7910,"y":3.82},{"s":"C","x":7935,"y":3.8},{"s":"C","x":7955,"y":3.85},{"s":"C","x":7980,"y":3.9},{"s":"C","x":8010,"y":3.97},{"s":"C","x":8030,"y":3.9},{"s":"C","x":8050,"y":3.8},{"s":"C","x":8070,"y":3.72},{"s":"C","x":8090,"y":3.65},{"s":"C","x":8110,"y":3.7},{"s":"C","x":8135,"y":3.76},{"s":"C","x":8160,"y":3.8},{"s":"C","x":8180,"y":3.84},{"s":"C","x":8200,"y":3.85},{"s":"C","x":8225,"y":3.8},{"s":"C","x":8250,"y":3.85},{"s":"C","x":8275,"y":3.82},{"s":"C","x":8305,"y":3.77},{"s":"C","x":8330,"y":3.84},{"s":"C","x":8355,"y":3.88},{"s":"C","x":8385,"y":3.89},{"s":"C","x":8410,"y":3.86},{"s":"C","x":8440,"y":3.93},{"s":"C","x":8465,"y":3.93},{"s":"C","x":8490,"y":3.85},{"s":"C","x":8510,"y":3.8},{"s":"C","x":8530,"y":3.77},{"s":"C","x":8555,"y":3.95},{"s":"C","x":8580,"y":4.02},{"s":"C","x":8600,"y":4.09},{"s":"C","x":8625,"y":4.05},{"s":"C","x":8650,"y":4.12},{"s":"C","x":8680,"y":4.1},{"s":"C","x":8705,"y":4.14},{"s":"C","x":8730,"y":4.12},{"s":"C","x":8760,"y":4.18},{"s":"C","x":8790,"y":4.15},{"s":"C","x":8815,"y":4.2},{"s":"C","x":8840,"y":4.22},{"s":"C","x":8870,"y":4.2},{"s":"C","x":8900,"y":4.26},{"s":"C","x":8930,"y":4.24},{"s":"C","x":8960,"y":4.28},{"s":"C","x":8975,"y":4.3},{"s":"C","x":9000,"y":4.27},{"s":"C","x":9030,"y":4.3},{"s":"C","x":9060,"y":4.28},{"s":"C","x":9080,"y":4.3},{"s":"C","x":9100,"y":4.26},{"s":"C","x":9120,"y":4.18},{"s":"C","x":9140,"y":3.9},{"s":"C","x":9160,"y":3.53},{"s":"C","x":9175,"y":3.65},{"s":"C","x":9190,"y":3.78},{"s":"C","x":9215,"y":3.73},{"s":"C","x":9240,"y":3.8},{"s":"C","x":9265,"y":3.76},{"s":"C","x":9290,"y":3.82},{"s":"C","x":9320,"y":3.85},{"s":"C","x":9345,"y":3.78},{"s":"C","x":9375,"y":3.73},{"s":"C","x":9400,"y":3.7},{"s":"C","x":9425,"y":3.62},{"s":"C","x":9455,"y":3.57},{"s":"C","x":9480,"y":3.62},{"s":"C","x":9505,"y":3.68},{"s":"C","x":9530,"y":3.75},{"s":"C","x":9560,"y":3.81},{"s":"C","x":9585,"y":3.76},{"s":"C","x":9610,"y":3.8},{"s":"C","x":9640,"y":3.75},{"s":"C","x":9670,"y":3.72},{"s":"C","x":9695,"y":3.73},{"s":"C","x":9720,"y":3.78},{"s":"C","x":9750,"y":3.82},{"s":"C","x":9775,"y":3.8},{"s":"C","x":9800,"y":3.85},{"s":"C","x":9830,"y":3.88},{"s":"C","x":9855,"y":3.86},{"s":"C","x":9880,"y":3.9},{"s":"C","x":9910,"y":3.93},{"s":"C","x":9940,"y":3.9},{"s":"C","x":9970,"y":3.95},{"s":"C","x":10000,"y":3.96},{"s":"C","x":10040,"y":3.97},{"s":"C","x":10070,"y":3.95},{"s":"C","x":10100,"y":3.99},{"s":"C","x":10130,"y":3.97},{"s":"C","x":10160,"y":4.01},{"s":"C","x":10190,"y":3.98},{"s":"C","x":10220,"y":4.03},{"s":"C","x":10250,"y":4.0},{"s":"C","x":10280,"y":4.05},
{"s":"V","x":3816,"y":2.15},{"s":"V","x":3820,"y":1.6},{"s":"V","x":3826,"y":1.15},{"s":"V","x":3835,"y":1.3},{"s":"V","x":3845,"y":1.08},{"s":"V","x":3855,"y":1.12},{"s":"V","x":3865,"y":1.02},{"s":"V","x":3872,"y":1.3},{"s":"V","x":3880,"y":2.4},{"s":"V","x":3888,"y":1.2},{"s":"V","x":3900,"y":1.1},{"s":"V","x":3912,"y":1.05},{"s":"V","x":3920,"y":1.2},{"s":"V","x":3930,"y":1.8},{"s":"V","x":3940,"y":1.1},{"s":"V","x":3952,"y":1.05},{"s":"V","x":3962,"y":1.3},{"s":"V","x":3970,"y":2.88},{"s":"V","x":3978,"y":1.1},{"s":"V","x":3990,"y":1.02},{"s":"V","x":4010,"y":1.05},{"s":"V","x":4030,"y":1.02},{"s":"V","x":4050,"y":1.06},{"s":"V","x":4070,"y":1.0},{"s":"V","x":4088,"y":1.1},{"s":"V","x":4100,"y":2.68},{"s":"V","x":4112,"y":1.05},{"s":"V","x":4130,"y":1.02},{"s":"V","x":4150,"y":0.98},{"s":"V","x":4170,"y":1.0},{"s":"V","x":4190,"y":0.96},{"s":"V","x":4210,"y":0.94},{"s":"V","x":4230,"y":0.97},{"s":"V","x":4255,"y":0.93},{"s":"V","x":4280,"y":0.98},{"s":"V","x":4300,"y":1.0},{"s":"V","x":4315,"y":1.02},{"s":"V","x":4330,"y":1.3},{"s":"V","x":4340,"y":2.96},{"s":"V","x":4350,"y":1.2},{"s":"V","x":4365,"y":1.02},{"s":"V","x":4390,"y":1.05},{"s":"V","x":4410,"y":1.02},{"s":"V","x":4430,"y":1.1},{"s":"V","x":4450,"y":1.05},{"s":"V","x":4466,"y":1.38},{"s":"V","x":4480,"y":1.05},{"s":"V","x":4500,"y":1.08},{"s":"V","x":4520,"y":1.04},{"s":"V","x":4545,"y":1.07},{"s":"V","x":4570,"y":1.05},{"s":"V","x":4590,"y":1.06},{"s":"V","x":4615,"y":1.04},{"s":"V","x":4640,"y":1.06},{"s":"V","x":4665,"y":1.03},{"s":"V","x":4690,"y":1.05},{"s":"V","x":4710,"y":1.0},{"s":"V","x":4735,"y":1.02},{"s":"V","x":4760,"y":0.97},{"s":"V","x":4780,"y":0.95},{"s":"V","x":4800,"y":0.98},{"s":"V","x":4820,"y":1.03},{"s":"V","x":4840,"y":1.1},{"s":"V","x":4852,"y":1.5},{"s":"V","x":4861,"y":3.3},{"s":"V","x":4870,"y":1.5},{"s":"V","x":4880,"y":1.1},{"s":"V","x":4900,"y":1.12},{"s":"V","x":4925,"y":1.08},{"s":"V","x":4945,"y":1.12},{"s":"V","x":4965,"y":1.14},{"s":"V","x":4990,"y":1.08},{"s":"V","x":5015,"y":1.05},{"s":"V","x":5040,"y":1.04},{"s":"V","x":5070,"y":1.02},{"s":"V","x":5100,"y":1.0},{"s":"V","x":5130,"y":0.99},{"s":"V","x":5155,"y":0.98},{"s":"V","x":5170,"y":1.1},{"s":"V","x":5180,"y":1.18},{"s":"V","x":5200,"y":1.12},{"s":"V","x":5230,"y":1.08},{"s":"V","x":5260,"y":1.1},{"s":"V","x":5290,"y":1.12},{"s":"V","x":5320,"y":1.14},{"s":"V","x":5350,"y":1.12},{"s":"V","x":5380,"y":1.16},{"s":"V","x":5410,"y":1.15},{"s":"V","x":5450,"y":1.18},{"s":"V","x":5480,"y":1.2},{"s":"V","x":5510,"y":1.22},{"s":"V","x":5540,"y":1.2},{"s":"V","x":5570,"y":1.25},{"s":"V","x":5600,"y":1.26},{"s":"V","x":5630,"y":1.28},{"s":"V","x":5660,"y":1.3},{"s":"V","x":5690,"y":1.32},{"s":"V","x":5715,"y":1.34},{"s":"V","x":5750,"y":1.33},{"s":"V","x":5780,"y":1.35},{"s":"V","x":5810,"y":1.33},{"s":"V","x":5840,"y":1.34},{"s":"V","x":5860,"y":1.4},{"s":"V","x":5875,"y":1.62},{"s":"V","x":5882,"y":1.2},{"s":"V","x":5890,"y":0.93},{"s":"V","x":5900,"y":1.0},{"s":"V","x":5915,"y":1.05},{"s":"V","x":5930,"y":1.1},{"s":"V","x":5960,"y":1.16},{"s":"V","x":5990,"y":1.2},{"s":"V","x":6020,"y":1.26},{"s":"V","x":6045,"y":1.28},{"s":"V","x":6065,"y":1.3},{"s":"V","x":6090,"y":1.27},{"s":"V","x":6120,"y":1.24},{"s":"V","x":6150,"y":1.25},{"s":"V","x":6175,"y":1.22},{"s":"V","x":6200,"y":1.22},{"s":"V","x":6230,"y":1.27},{"s":"V","x":6260,"y":1.3},{"s":"V","x":6290,"y":1.33},{"s":"V","x":6320,"y":1.34},{"s":"V","x":6350,"y":1.32},{"s":"V","x":6382,"y":1.22},{"s":"V","x":6410,"y":1.28},{"s":"V","x":6440,"y":1.38},{"s":"V","x":6460,"y":1.43},{"s":"V","x":6480,"y":1.44},{"s":"V","x":6500,"y":1.42},{"s":"V","x":6520,"y":1.5},{"s":"V","x":6540,"y":1.55},{"s":"V","x":6556,"y":1.7},{"s":"V","x":6563,"y":4.0},{"s":"V","x":6570,"y":1.7},{"s":"V","x":6585,"y":1.5},{"s":"V","x":6600,"y":1.45},{"s":"V","x":6620,"y":1.4},{"s":"V","x":6640,"y":1.42},{"s":"V","x":6660,"y":1.45},{"s":"V","x":6675,"y":1.54},{"s":"V","x":6690,"y":1.4},{"s":"V","x":6710,"y":1.3},{"s":"V","x":6730,"y":1.26},{"s":"V","x":6760,"y":1.22},{"s":"V","x":6790,"y":1.2},{"s":"V","x":6820,"y":1.2},{"s":"V","x":6860,"y":1.18},{"s":"V","x":6890,"y":1.22},{"s":"V","x":6920,"y":1.3},{"s":"V","x":6940,"y":1.34},{"s":"V","x":6970,"y":1.4},{"s":"V","x":7000,"y":1.45},{"s":"V","x":7030,"y":1.52},{"s":"V","x":7050,"y":1.58},{"s":"V","x":7070,"y":1.5},{"s":"V","x":7100,"y":1.41},{"s":"V","x":7130,"y":1.35},{"s":"V","x":7155,"y":1.3},{"s":"V","x":7180,"y":1.34},{"s":"V","x":7210,"y":1.4},{"s":"V","x":7235,"y":1.45},{"s":"V","x":7260,"y":1.52},{"s":"V","x":7290,"y":1.6},{"s":"V","x":7315,"y":1.67},{"s":"V","x":7340,"y":1.63},{"s":"V","x":7370,"y":1.68},{"s":"V","x":7400,"y":1.65},{"s":"V","x":7430,"y":1.7},{"s":"V","x":7450,"y":1.67},{"s":"V","x":7480,"y":1.7},{"s":"V","x":7510,"y":1.66},{"s":"V","x":7540,"y":1.71},{"s":"V","x":7580,"y":1.7},{"s":"V","x":7610,"y":1.65},{"s":"V","x":7640,"y":1.6},{"s":"V","x":7665,"y":1.54},{"s":"V","x":7690,"y":1.6},{"s":"V","x":7720,"y":1.65},{"s":"V","x":7745,"y":1.68},{"s":"V","x":7770,"y":1.67},{"s":"V","x":7800,"y":1.64},{"s":"V","x":7830,"y":1.7},{"s":"V","x":7860,"y":1.66},{"s":"V","x":7880,"y":1.67},{"s":"V","x":7910,"y":1.72},{"s":"V","x":7940,"y":1.68},{"s":"V","x":7960,"y":1.7},{"s":"V","x":7985,"y":1.7},{"s":"V","x":8010,"y":1.67},{"s":"V","x":8040,"y":1.72},{"s":"V","x":8070,"y":1.68},{"s":"V","x":8090,"y":1.7},{"s":"V","x":8110,"y":1.73},{"s":"V","x":8140,"y":1.67},{"s":"V","x":8170,"y":1.71},{"s":"V","x":8200,"y":1.67},{"s":"V","x":8230,"y":1.5},{"s":"V","x":8245,"y":1.7},{"s":"V","x":8270,"y":1.66},{"s":"V","x":8305,"y":1.7},{"s":"V","x":8330,"y":1.65},{"s":"V","x":8360,"y":1.69},{"s":"V","x":8385,"y":1.67},{"s":"V","x":8410,"y":1.72},{"s":"V","x":8440,"y":1.66},{"s":"V","x":8470,"y":1.7},{"s":"V","x":8500,"y":1.65},{"s":"V","x":8530,"y":1.69},{"s":"V","x":8570,"y":1.67},{"s":"V","x":8600,"y":1.72},{"s":"V","x":8630,"y":1.64},{"s":"V","x":8660,"y":1.68},{"s":"V","x":8700,"y":1.62},{"s":"V","x":8730,"y":1.7},{"s":"V","x":8760,"y":1.66},{"s":"V","x":8790,"y":1.63},{"s":"V","x":8820,"y":1.6},{"s":"V","x":8840,"y":1.64},{"s":"V","x":8870,"y":1.7},{"s":"V","x":8900,"y":1.62},{"s":"V","x":8930,"y":1.66},{"s":"V","x":8960,"y":1.58},{"s":"V","x":8975,"y":1.6},{"s":"V","x":9000,"y":1.64},{"s":"V","x":9030,"y":1.6},{"s":"V","x":9060,"y":1.62},{"s":"V","x":9080,"y":1.64},{"s":"V","x":9110,"y":1.6},{"s":"V","x":9140,"y":1.63},{"s":"V","x":9160,"y":1.61},{"s":"V","x":9185,"y":1.64}
],
"fit": [
{"s":"B","x":3600,"y":0},{"s":"B","x":3600.5,"y":15.75},{"s":"B","x":3650,"y":15.5},{"s":"B","x":3700,"y":15.3},{"s":"B","x":3750,"y":15.13},{"s":"B","x":3800,"y":14.98},{"s":"B","x":3900,"y":14.75},{"s":"B","x":4000,"y":14.57},{"s":"B","x":4100,"y":14.4},{"s":"B","x":4200,"y":14.22},{"s":"B","x":4300,"y":14.05},{"s":"B","x":4400,"y":13.9},{"s":"B","x":4500,"y":13.75},{"s":"B","x":4600,"y":13.62},{"s":"B","x":4700,"y":13.5},{"s":"B","x":4800,"y":13.39},{"s":"B","x":4900,"y":13.29},{"s":"B","x":5000,"y":13.2},{"s":"B","x":5200,"y":13.06},{"s":"B","x":5400,"y":12.95},{"s":"B","x":5600,"y":12.85},{"s":"B","x":5800,"y":12.77},{"s":"B","x":6000,"y":12.7},{"s":"B","x":6250,"y":12.62},{"s":"B","x":6500,"y":12.55},{"s":"B","x":6750,"y":12.49},{"s":"B","x":7000,"y":12.43},{"s":"B","x":7500,"y":12.34},{"s":"B","x":8000,"y":12.26},{"s":"B","x":8500,"y":12.21},{"s":"B","x":9000,"y":12.18},{"s":"B","x":9500,"y":12.15},{"s":"B","x":10000,"y":12.13},{"s":"B","x":10280,"y":12.12},
{"s":"K","x":3600,"y":9.68},{"s":"K","x":3700,"y":9.64},{"s":"K","x":3800,"y":9.66},{"s":"K","x":3900,"y":9.78},{"s":"K","x":4000,"y":9.92},{"s":"K","x":4100,"y":10.05},{"s":"K","x":4200,"y":10.17},{"s":"K","x":4300,"y":10.3},{"s":"K","x":4400,"y":10.39},{"s":"K","x":4500,"y":10.47},{"s":"K","x":4600,"y":10.54},{"s":"K","x":4700,"y":10.59},{"s":"K","x":4800,"y":10.64},{"s":"K","x":4900,"y":10.67},{"s":"K","x":5000,"y":10.69},{"s":"K","x":5200,"y":10.72},{"s":"K","x":5400,"y":10.75},{"s":"K","x":5600,"y":10.77},{"s":"K","x":5800,"y":10.8},{"s":"K","x":6000,"y":10.82},{"s":"K","x":6250,"y":10.83},{"s":"K","x":6500,"y":10.83},{"s":"K","x":6750,"y":10.82},{"s":"K","x":7000,"y":10.8},{"s":"K","x":7250,"y":10.78},{"s":"K","x":7500,"y":10.76},{"s":"K","x":7750,"y":10.71},{"s":"K","x":8000,"y":10.68},{"s":"K","x":8250,"y":10.65},{"s":"K","x":8500,"y":10.61},{"s":"K","x":8750,"y":10.57},{"s":"K","x":9000,"y":10.54},{"s":"K","x":9250,"y":10.51},{"s":"K","x":9500,"y":10.48},{"s":"K","x":9750,"y":10.46},{"s":"K","x":10000,"y":10.44},{"s":"K","x":10280,"y":10.42},
{"s":"M","x":3600,"y":5.3},{"s":"M","x":3800,"y":5.27},{"s":"M","x":4000,"y":5.26},{"s":"M","x":4200,"y":5.25},{"s":"M","x":4400,"y":5.25},{"s":"M","x":4600,"y":5.26},{"s":"M","x":4800,"y":5.28},{"s":"M","x":5000,"y":5.31},{"s":"M","x":5200,"y":5.33},{"s":"M","x":5400,"y":5.35},{"s":"M","x":5600,"y":5.35},{"s":"M","x":5800,"y":5.33},{"s":"M","x":6000,"y":5.3},{"s":"M","x":6200,"y":5.3},{"s":"M","x":6400,"y":5.34},{"s":"M","x":6600,"y":5.42},{"s":"M","x":6800,"y":5.58},{"s":"M","x":7000,"y":5.84},{"s":"M","x":7200,"y":6.1},{"s":"M","x":7400,"y":6.45},{"s":"M","x":7600,"y":6.82},{"s":"M","x":7800,"y":7.16},{"s":"M","x":8000,"y":7.48},{"s":"M","x":8200,"y":7.78},{"s":"M","x":8400,"y":7.97},{"s":"M","x":8600,"y":8.17},{"s":"M","x":8800,"y":8.36},{"s":"M","x":9000,"y":8.52},{"s":"M","x":9200,"y":8.68},{"s":"M","x":9400,"y":8.8},{"s":"M","x":9600,"y":8.91},{"s":"M","x":9800,"y":8.99},{"s":"M","x":10000,"y":9.05},{"s":"M","x":10280,"y":9.12},
{"s":"X","x":3600,"y":7.42},{"s":"X","x":3700,"y":7.5},{"s":"X","x":3800,"y":7.44},{"s":"X","x":3900,"y":7.28},{"s":"X","x":4000,"y":7.14},{"s":"X","x":4100,"y":7.07},{"s":"X","x":4200,"y":7.04},{"s":"X","x":4300,"y":7.06},{"s":"X","x":4400,"y":7.13},{"s":"X","x":4500,"y":7.25},{"s":"X","x":4600,"y":7.4},{"s":"X","x":4700,"y":7.55},{"s":"X","x":4800,"y":7.7},{"s":"X","x":4900,"y":7.8},{"s":"X","x":5000,"y":7.86},{"s":"X","x":5100,"y":7.89},{"s":"X","x":5200,"y":7.88},{"s":"X","x":5300,"y":7.85},{"s":"X","x":5400,"y":7.8},{"s":"X","x":5500,"y":7.73},{"s":"X","x":5600,"y":7.65},{"s":"X","x":5700,"y":7.57},{"s":"X","x":5800,"y":7.5},{"s":"X","x":5900,"y":7.45},{"s":"X","x":6000,"y":7.42},{"s":"X","x":6100,"y":7.41},{"s":"X","x":6200,"y":7.45},{"s":"X","x":6300,"y":7.58},{"s":"X","x":6400,"y":7.76},{"s":"X","x":6500,"y":7.99},
{"s":"C","x":3600,"y":3.12},{"s":"C","x":3700,"y":3.08},{"s":"C","x":3800,"y":3.07},{"s":"C","x":3900,"y":3.12},{"s":"C","x":4000,"y":3.2},{"s":"C","x":4100,"y":3.32},{"s":"C","x":4200,"y":3.44},{"s":"C","x":4300,"y":3.58},{"s":"C","x":4400,"y":3.72},{"s":"C","x":4500,"y":3.86},{"s":"C","x":4600,"y":3.98},{"s":"C","x":4700,"y":4.08},{"s":"C","x":4800,"y":4.15},{"s":"C","x":4900,"y":4.2},{"s":"C","x":5000,"y":4.24},{"s":"C","x":5200,"y":4.28},{"s":"C","x":5500,"y":4.3},{"s":"C","x":6000,"y":4.32},{"s":"C","x":6500,"y":4.33},{"s":"C","x":7000,"y":4.33},{"s":"C","x":7500,"y":4.33},{"s":"C","x":8000,"y":4.33},{"s":"C","x":8500,"y":4.32},{"s":"C","x":9000,"y":4.31},{"s":"C","x":9200,"y":4.29},{"s":"C","x":9400,"y":4.25},{"s":"C","x":9600,"y":4.19},{"s":"C","x":9800,"y":4.13},{"s":"C","x":10000,"y":4.09},{"s":"C","x":10280,"y":4.06},
{"s":"V","x":3816,"y":1.4},{"s":"V","x":3900,"y":1.32},{"s":"V","x":4000,"y":1.25},{"s":"V","x":4100,"y":1.2},{"s":"V","x":4200,"y":1.17},{"s":"V","x":4300,"y":1.15},{"s":"V","x":4500,"y":1.14},{"s":"V","x":4700,"y":1.14},{"s":"V","x":4900,"y":1.15},{"s":"V","x":5100,"y":1.18},{"s":"V","x":5300,"y":1.23},{"s":"V","x":5500,"y":1.28},{"s":"V","x":5700,"y":1.33},{"s":"V","x":5900,"y":1.38},{"s":"V","x":6100,"y":1.43},{"s":"V","x":6300,"y":1.48},{"s":"V","x":6500,"y":1.53},{"s":"V","x":6700,"y":1.57},{"s":"V","x":6900,"y":1.61},{"s":"V","x":7100,"y":1.65},{"s":"V","x":7300,"y":1.68},{"s":"V","x":7500,"y":1.71},{"s":"V","x":7700,"y":1.73},{"s":"V","x":7900,"y":1.75},{"s":"V","x":8100,"y":1.76},{"s":"V","x":8300,"y":1.77},{"s":"V","x":8500,"y":1.77},{"s":"V","x":8700,"y":1.76},{"s":"V","x":8900,"y":1.74},{"s":"V","x":9100,"y":1.71},{"s":"V","x":9185,"y":1.69}
],
"band": [
{"s":"B","b":"h","x":3600,"y":0},{"s":"B","b":"h","x":3600.5,"y":16.0},{"s":"B","b":"h","x":3650,"y":15.72},{"s":"B","b":"h","x":3700,"y":15.48},{"s":"B","b":"h","x":3800,"y":15.12},{"s":"B","b":"h","x":3900,"y":14.87},{"s":"B","b":"h","x":4000,"y":14.68},{"s":"B","b":"h","x":4100,"y":14.5},{"s":"B","b":"h","x":4200,"y":14.32},{"s":"B","b":"h","x":4300,"y":14.15},{"s":"B","b":"h","x":4400,"y":13.99},{"s":"B","b":"h","x":4500,"y":13.84},{"s":"B","b":"h","x":4600,"y":13.71},{"s":"B","b":"h","x":4700,"y":13.59},{"s":"B","b":"h","x":4800,"y":13.48},{"s":"B","b":"h","x":4900,"y":13.38},{"s":"B","b":"h","x":5000,"y":13.29},{"s":"B","b":"h","x":5200,"y":13.14},{"s":"B","b":"h","x":5400,"y":13.03},{"s":"B","b":"h","x":5600,"y":12.93},{"s":"B","b":"h","x":5800,"y":12.85},{"s":"B","b":"h","x":6000,"y":12.78},{"s":"B","b":"h","x":6500,"y":12.62},{"s":"B","b":"h","x":7000,"y":12.5},{"s":"B","b":"h","x":7500,"y":12.41},{"s":"B","b":"h","x":8000,"y":12.33},{"s":"B","b":"h","x":8500,"y":12.28},{"s":"B","b":"h","x":9000,"y":12.24},{"s":"B","b":"h","x":9500,"y":12.21},{"s":"B","b":"h","x":10000,"y":12.19},{"s":"B","b":"h","x":10280,"y":12.18},
{"s":"B","b":"l","x":3600.5,"y":15.45},{"s":"B","b":"l","x":3650,"y":15.28},{"s":"B","b":"l","x":3700,"y":15.12},{"s":"B","b":"l","x":3800,"y":14.84},{"s":"B","b":"l","x":3900,"y":14.63},{"s":"B","b":"l","x":4000,"y":14.46},{"s":"B","b":"l","x":4100,"y":14.3},{"s":"B","b":"l","x":4200,"y":14.12},{"s":"B","b":"l","x":4300,"y":13.95},{"s":"B","b":"l","x":4400,"y":13.81},{"s":"B","b":"l","x":4500,"y":13.66},{"s":"B","b":"l","x":4600,"y":13.53},{"s":"B","b":"l","x":4700,"y":13.41},{"s":"B","b":"l","x":4800,"y":13.3},{"s":"B","b":"l","x":4900,"y":13.2},{"s":"B","b":"l","x":5000,"y":13.11},{"s":"B","b":"l","x":5200,"y":12.98},{"s":"B","b":"l","x":5400,"y":12.87},{"s":"B","b":"l","x":5600,"y":12.77},{"s":"B","b":"l","x":5800,"y":12.69},{"s":"B","b":"l","x":6000,"y":12.62},{"s":"B","b":"l","x":6500,"y":12.48},{"s":"B","b":"l","x":7000,"y":12.36},{"s":"B","b":"l","x":7500,"y":12.27},{"s":"B","b":"l","x":8000,"y":12.2},{"s":"B","b":"l","x":8500,"y":12.16},{"s":"B","b":"l","x":9000,"y":12.12},{"s":"B","b":"l","x":9500,"y":12.09},{"s":"B","b":"l","x":10000,"y":12.07},{"s":"B","b":"l","x":10280,"y":12.06},
{"s":"K","b":"h","x":3600,"y":9.85},{"s":"K","b":"h","x":3700,"y":9.8},{"s":"K","b":"h","x":3800,"y":9.78},{"s":"K","b":"h","x":3900,"y":9.9},{"s":"K","b":"h","x":4000,"y":10.04},{"s":"K","b":"h","x":4100,"y":10.17},{"s":"K","b":"h","x":4200,"y":10.29},{"s":"K","b":"h","x":4300,"y":10.41},{"s":"K","b":"h","x":4400,"y":10.5},{"s":"K","b":"h","x":4500,"y":10.58},{"s":"K","b":"h","x":4600,"y":10.64},{"s":"K","b":"h","x":4700,"y":10.69},{"s":"K","b":"h","x":4800,"y":10.74},{"s":"K","b":"h","x":4900,"y":10.77},{"s":"K","b":"h","x":5000,"y":10.79},{"s":"K","b":"h","x":5200,"y":10.82},{"s":"K","b":"h","x":5400,"y":10.85},{"s":"K","b":"h","x":5600,"y":10.87},{"s":"K","b":"h","x":5800,"y":10.9},{"s":"K","b":"h","x":6000,"y":10.92},{"s":"K","b":"h","x":6250,"y":10.93},{"s":"K","b":"h","x":6500,"y":10.93},{"s":"K","b":"h","x":6750,"y":10.92},{"s":"K","b":"h","x":7000,"y":10.9},{"s":"K","b":"h","x":7250,"y":10.88},{"s":"K","b":"h","x":7500,"y":10.86},{"s":"K","b":"h","x":7750,"y":10.81},{"s":"K","b":"h","x":8000,"y":10.78},{"s":"K","b":"h","x":8250,"y":10.75},{"s":"K","b":"h","x":8500,"y":10.71},{"s":"K","b":"h","x":8750,"y":10.67},{"s":"K","b":"h","x":9000,"y":10.65},{"s":"K","b":"h","x":9150,"y":10.64},{"s":"K","b":"h","x":9200,"y":10.72},{"s":"K","b":"h","x":9260,"y":10.6},{"s":"K","b":"h","x":9320,"y":10.78},{"s":"K","b":"h","x":9380,"y":10.62},{"s":"K","b":"h","x":9440,"y":10.8},{"s":"K","b":"h","x":9500,"y":10.6},{"s":"K","b":"h","x":9560,"y":10.82},{"s":"K","b":"h","x":9620,"y":10.62},{"s":"K","b":"h","x":9680,"y":10.85},{"s":"K","b":"h","x":9740,"y":10.6},{"s":"K","b":"h","x":9800,"y":10.83},{"s":"K","b":"h","x":9860,"y":10.62},{"s":"K","b":"h","x":9920,"y":10.9},{"s":"K","b":"h","x":9980,"y":10.58},{"s":"K","b":"h","x":10040,"y":10.92},{"s":"K","b":"h","x":10100,"y":10.6},{"s":"K","b":"h","x":10160,"y":10.95},{"s":"K","b":"h","x":10220,"y":10.62},{"s":"K","b":"h","x":10280,"y":10.9},
{"s":"K","b":"l","x":3600,"y":9.52},{"s":"K","b":"l","x":3700,"y":9.5},{"s":"K","b":"l","x":3800,"y":9.55},{"s":"K","b":"l","x":3900,"y":9.68},{"s":"K","b":"l","x":4000,"y":9.82},{"s":"K","b":"l","x":4100,"y":9.95},{"s":"K","b":"l","x":4200,"y":10.07},{"s":"K","b":"l","x":4300,"y":10.2},{"s":"K","b":"l","x":4400,"y":10.29},{"s":"K","b":"l","x":4500,"y":10.37},{"s":"K","b":"l","x":4600,"y":10.44},{"s":"K","b":"l","x":4700,"y":10.5},{"s":"K","b":"l","x":4800,"y":10.55},{"s":"K","b":"l","x":4900,"y":10.58},{"s":"K","b":"l","x":5000,"y":10.6},{"s":"K","b":"l","x":5200,"y":10.63},{"s":"K","b":"l","x":5400,"y":10.66},{"s":"K","b":"l","x":5600,"y":10.68},{"s":"K","b":"l","x":5800,"y":10.71},{"s":"K","b":"l","x":6000,"y":10.73},{"s":"K","b":"l","x":6500,"y":10.74},{"s":"K","b":"l","x":7000,"y":10.71},{"s":"K","b":"l","x":7500,"y":10.67},{"s":"K","b":"l","x":8000,"y":10.59},{"s":"K","b":"l","x":8500,"y":10.52},{"s":"K","b":"l","x":9000,"y":10.45},{"s":"K","b":"l","x":9200,"y":10.42},{"s":"K","b":"l","x":9300,"y":10.3},{"s":"K","b":"l","x":9400,"y":10.4},{"s":"K","b":"l","x":9500,"y":10.28},{"s":"K","b":"l","x":9600,"y":10.38},{"s":"K","b":"l","x":9700,"y":10.25},{"s":"K","b":"l","x":9800,"y":10.36},{"s":"K","b":"l","x":9900,"y":10.22},{"s":"K","b":"l","x":10000,"y":10.35},{"s":"K","b":"l","x":10100,"y":10.2},{"s":"K","b":"l","x":10200,"y":10.33},{"s":"K","b":"l","x":10280,"y":10.25},
{"s":"M","b":"h","x":3600,"y":5.4},{"s":"M","b":"h","x":3800,"y":5.37},{"s":"M","b":"h","x":4000,"y":5.35},{"s":"M","b":"h","x":4200,"y":5.34},{"s":"M","b":"h","x":4400,"y":5.34},{"s":"M","b":"h","x":4600,"y":5.35},{"s":"M","b":"h","x":4800,"y":5.37},{"s":"M","b":"h","x":4861,"y":5.5},{"s":"M","b":"h","x":4870,"y":5.37},{"s":"M","b":"h","x":5000,"y":5.4},{"s":"M","b":"h","x":5200,"y":5.42},{"s":"M","b":"h","x":5400,"y":5.44},{"s":"M","b":"h","x":5570,"y":5.44},{"s":"M","b":"h","x":5577,"y":5.55},{"s":"M","b":"h","x":5584,"y":5.44},{"s":"M","b":"h","x":5800,"y":5.42},{"s":"M","b":"h","x":6000,"y":5.39},{"s":"M","b":"h","x":6200,"y":5.39},{"s":"M","b":"h","x":6400,"y":5.43},{"s":"M","b":"h","x":6555,"y":5.5},{"s":"M","b":"h","x":6563,"y":5.75},{"s":"M","b":"h","x":6571,"y":5.52},{"s":"M","b":"h","x":6800,"y":5.68},{"s":"M","b":"h","x":7000,"y":5.96},{"s":"M","b":"h","x":7200,"y":6.24},{"s":"M","b":"h","x":7400,"y":6.6},{"s":"M","b":"h","x":7600,"y":6.98},{"s":"M","b":"h","x":7800,"y":7.33},{"s":"M","b":"h","x":8000,"y":7.66},{"s":"M","b":"h","x":8200,"y":7.96},{"s":"M","b":"h","x":8400,"y":8.15},{"s":"M","b":"h","x":8600,"y":8.35},{"s":"M","b":"h","x":8800,"y":8.54},{"s":"M","b":"h","x":9000,"y":8.7},{"s":"M","b":"h","x":9200,"y":8.86},{"s":"M","b":"h","x":9400,"y":8.98},{"s":"M","b":"h","x":9600,"y":9.1},{"s":"M","b":"h","x":9800,"y":9.2},{"s":"M","b":"h","x":9880,"y":9.55},{"s":"M","b":"h","x":9920,"y":9.3},{"s":"M","b":"h","x":9960,"y":9.6},{"s":"M","b":"h","x":10000,"y":9.35},{"s":"M","b":"h","x":10040,"y":9.65},{"s":"M","b":"h","x":10080,"y":9.4},{"s":"M","b":"h","x":10120,"y":9.6},{"s":"M","b":"h","x":10160,"y":9.38},{"s":"M","b":"h","x":10200,"y":9.66},{"s":"M","b":"h","x":10240,"y":9.42},{"s":"M","b":"h","x":10280,"y":9.6},
{"s":"M","b":"l","x":3600,"y":5.2},{"s":"M","b":"l","x":3800,"y":5.17},{"s":"M","b":"l","x":4000,"y":5.16},{"s":"M","b":"l","x":4200,"y":5.15},{"s":"M","b":"l","x":4400,"y":5.15},{"s":"M","b":"l","x":4600,"y":5.16},{"s":"M","b":"l","x":4800,"y":5.18},{"s":"M","b":"l","x":4861,"y":5.0},{"s":"M","b":"l","x":4870,"y":5.18},{"s":"M","b":"l","x":5000,"y":5.21},{"s":"M","b":"l","x":5200,"y":5.23},{"s":"M","b":"l","x":5400,"y":5.25},{"s":"M","b":"l","x":5570,"y":5.25},{"s":"M","b":"l","x":5577,"y":5.1},{"s":"M","b":"l","x":5584,"y":5.25},{"s":"M","b":"l","x":5800,"y":5.23},{"s":"M","b":"l","x":6000,"y":5.2},{"s":"M","b":"l","x":6200,"y":5.2},{"s":"M","b":"l","x":6400,"y":5.24},{"s":"M","b":"l","x":6555,"y":5.3},{"s":"M","b":"l","x":6563,"y":4.85},{"s":"M","b":"l","x":6571,"y":5.3},{"s":"M","b":"l","x":6800,"y":5.46},{"s":"M","b":"l","x":7000,"y":5.72},{"s":"M","b":"l","x":7200,"y":5.97},{"s":"M","b":"l","x":7400,"y":6.3},{"s":"M","b":"l","x":7600,"y":6.66},{"s":"M","b":"l","x":7800,"y":7.0},{"s":"M","b":"l","x":8000,"y":7.32},{"s":"M","b":"l","x":8200,"y":7.6},{"s":"M","b":"l","x":8400,"y":7.79},{"s":"M","b":"l","x":8600,"y":7.99},{"s":"M","b":"l","x":8800,"y":8.18},{"s":"M","b":"l","x":9000,"y":8.34},{"s":"M","b":"l","x":9200,"y":8.5},{"s":"M","b":"l","x":9400,"y":8.6},{"s":"M","b":"l","x":9600,"y":8.7},{"s":"M","b":"l","x":9800,"y":8.75},{"s":"M","b":"l","x":9850,"y":8.45},{"s":"M","b":"l","x":9900,"y":8.8},{"s":"M","b":"l","x":9950,"y":8.4},{"s":"M","b":"l","x":10000,"y":8.85},{"s":"M","b":"l","x":10050,"y":8.5},{"s":"M","b":"l","x":10100,"y":8.9},{"s":"M","b":"l","x":10150,"y":8.45},{"s":"M","b":"l","x":10200,"y":8.85},{"s":"M","b":"l","x":10250,"y":8.5},{"s":"M","b":"l","x":10280,"y":8.8},
{"s":"X","b":"h","x":3600,"y":7.6},{"s":"X","b":"h","x":3700,"y":7.66},{"s":"X","b":"h","x":3800,"y":7.6},{"s":"X","b":"h","x":3900,"y":7.44},{"s":"X","b":"h","x":4000,"y":7.3},{"s":"X","b":"h","x":4100,"y":7.22},{"s":"X","b":"h","x":4200,"y":7.19},{"s":"X","b":"h","x":4300,"y":7.21},{"s":"X","b":"h","x":4400,"y":7.28},{"s":"X","b":"h","x":4500,"y":7.4},{"s":"X","b":"h","x":4600,"y":7.56},{"s":"X","b":"h","x":4700,"y":7.71},{"s":"X","b":"h","x":4800,"y":7.86},{"s":"X","b":"h","x":4900,"y":7.96},{"s":"X","b":"h","x":5000,"y":8.02},{"s":"X","b":"h","x":5100,"y":8.05},{"s":"X","b":"h","x":5200,"y":8.04},{"s":"X","b":"h","x":5300,"y":8.01},{"s":"X","b":"h","x":5400,"y":7.96},{"s":"X","b":"h","x":5500,"y":7.89},{"s":"X","b":"h","x":5600,"y":7.81},{"s":"X","b":"h","x":5700,"y":7.73},{"s":"X","b":"h","x":5800,"y":7.66},{"s":"X","b":"h","x":5900,"y":7.6},{"s":"X","b":"h","x":6000,"y":7.57},{"s":"X","b":"h","x":6100,"y":7.56},{"s":"X","b":"h","x":6200,"y":7.6},{"s":"X","b":"h","x":6300,"y":7.73},{"s":"X","b":"h","x":6400,"y":7.92},{"s":"X","b":"h","x":6500,"y":8.16},
{"s":"X","b":"l","x":3600,"y":7.2},{"s":"X","b":"l","x":3700,"y":7.32},{"s":"X","b":"l","x":3800,"y":7.28},{"s":"X","b":"l","x":3900,"y":7.12},{"s":"X","b":"l","x":4000,"y":6.98},{"s":"X","b":"l","x":4100,"y":6.91},{"s":"X","b":"l","x":4200,"y":6.88},{"s":"X","b":"l","x":4300,"y":6.9},{"s":"X","b":"l","x":4400,"y":6.97},{"s":"X","b":"l","x":4500,"y":7.09},{"s":"X","b":"l","x":4600,"y":7.24},{"s":"X","b":"l","x":4700,"y":7.39},{"s":"X","b":"l","x":4800,"y":7.54},{"s":"X","b":"l","x":4900,"y":7.64},{"s":"X","b":"l","x":5000,"y":7.7},{"s":"X","b":"l","x":5100,"y":7.73},{"s":"X","b":"l","x":5200,"y":7.72},{"s":"X","b":"l","x":5300,"y":7.69},{"s":"X","b":"l","x":5400,"y":7.64},{"s":"X","b":"l","x":5500,"y":7.57},{"s":"X","b":"l","x":5600,"y":7.49},{"s":"X","b":"l","x":5700,"y":7.41},{"s":"X","b":"l","x":5800,"y":7.34},{"s":"X","b":"l","x":5900,"y":7.29},{"s":"X","b":"l","x":6000,"y":7.26},{"s":"X","b":"l","x":6100,"y":7.25},{"s":"X","b":"l","x":6200,"y":7.3},{"s":"X","b":"l","x":6300,"y":7.43},{"s":"X","b":"l","x":6400,"y":7.6},{"s":"X","b":"l","x":6500,"y":7.82},
{"s":"C","b":"h","x":3600,"y":3.22},{"s":"C","b":"h","x":3700,"y":3.17},{"s":"C","b":"h","x":3800,"y":3.16},{"s":"C","b":"h","x":3900,"y":3.21},{"s":"C","b":"h","x":4000,"y":3.3},{"s":"C","b":"h","x":4100,"y":3.42},{"s":"C","b":"h","x":4200,"y":3.54},{"s":"C","b":"h","x":4300,"y":3.68},{"s":"C","b":"h","x":4400,"y":3.82},{"s":"C","b":"h","x":4500,"y":3.95},{"s":"C","b":"h","x":4600,"y":4.07},{"s":"C","b":"h","x":4700,"y":4.17},{"s":"C","b":"h","x":4800,"y":4.24},{"s":"C","b":"h","x":4900,"y":4.29},{"s":"C","b":"h","x":5000,"y":4.33},{"s":"C","b":"h","x":5200,"y":4.37},{"s":"C","b":"h","x":5500,"y":4.39},{"s":"C","b":"h","x":6000,"y":4.41},{"s":"C","b":"h","x":6500,"y":4.42},{"s":"C","b":"h","x":7000,"y":4.42},{"s":"C","b":"h","x":7500,"y":4.42},{"s":"C","b":"h","x":8000,"y":4.42},{"s":"C","b":"h","x":8500,"y":4.41},{"s":"C","b":"h","x":9000,"y":4.4},{"s":"C","b":"h","x":9200,"y":4.38},{"s":"C","b":"h","x":9230,"y":4.45},{"s":"C","b":"h","x":9260,"y":4.32},{"s":"C","b":"h","x":9300,"y":4.4},{"s":"C","b":"h","x":9350,"y":4.47},{"s":"C","b":"h","x":9400,"y":4.33},{"s":"C","b":"h","x":9500,"y":4.3},{"s":"C","b":"h","x":9600,"y":4.27},{"s":"C","b":"h","x":9650,"y":4.33},{"s":"C","b":"h","x":9700,"y":4.2},{"s":"C","b":"h","x":9800,"y":4.2},{"s":"C","b":"h","x":9900,"y":4.15},{"s":"C","b":"h","x":10000,"y":4.17},{"s":"C","b":"h","x":10100,"y":4.14},{"s":"C","b":"h","x":10200,"y":4.2},{"s":"C","b":"h","x":10280,"y":4.14},
{"s":"C","b":"l","x":3600,"y":3.02},{"s":"C","b":"l","x":3700,"y":2.99},{"s":"C","b":"l","x":3800,"y":2.98},{"s":"C","b":"l","x":3900,"y":3.03},{"s":"C","b":"l","x":4000,"y":3.11},{"s":"C","b":"l","x":4100,"y":3.23},{"s":"C","b":"l","x":4200,"y":3.35},{"s":"C","b":"l","x":4300,"y":3.49},{"s":"C","b":"l","x":4400,"y":3.63},{"s":"C","b":"l","x":4500,"y":3.77},{"s":"C","b":"l","x":4600,"y":3.89},{"s":"C","b":"l","x":4700,"y":3.99},{"s":"C","b":"l","x":4800,"y":4.06},{"s":"C","b":"l","x":4900,"y":4.11},{"s":"C","b":"l","x":5000,"y":4.15},{"s":"C","b":"l","x":5200,"y":4.19},{"s":"C","b":"l","x":5500,"y":4.21},{"s":"C","b":"l","x":6000,"y":4.23},{"s":"C","b":"l","x":6500,"y":4.24},{"s":"C","b":"l","x":7000,"y":4.24},{"s":"C","b":"l","x":7500,"y":4.24},{"s":"C","b":"l","x":8000,"y":4.24},{"s":"C","b":"l","x":8500,"y":4.23},{"s":"C","b":"l","x":9000,"y":4.22},{"s":"C","b":"l","x":9200,"y":4.2},{"s":"C","b":"l","x":9250,"y":4.12},{"s":"C","b":"l","x":9300,"y":4.2},{"s":"C","b":"l","x":9400,"y":4.16},{"s":"C","b":"l","x":9500,"y":4.1},{"s":"C","b":"l","x":9550,"y":4.18},{"s":"C","b":"l","x":9600,"y":4.09},{"s":"C","b":"l","x":9700,"y":4.04},{"s":"C","b":"l","x":9800,"y":4.03},{"s":"C","b":"l","x":9850,"y":3.95},{"s":"C","b":"l","x":9900,"y":3.99},{"s":"C","b":"l","x":10000,"y":3.98},{"s":"C","b":"l","x":10100,"y":3.96},{"s":"C","b":"l","x":10200,"y":3.97},{"s":"C","b":"l","x":10250,"y":3.85},{"s":"C","b":"l","x":10280,"y":3.97},
{"s":"V","b":"h","x":3816,"y":1.6},{"s":"V","b":"h","x":3900,"y":1.48},{"s":"V","b":"h","x":4000,"y":1.38},{"s":"V","b":"h","x":4100,"y":1.32},{"s":"V","b":"h","x":4200,"y":1.28},{"s":"V","b":"h","x":4300,"y":1.26},{"s":"V","b":"h","x":4500,"y":1.25},{"s":"V","b":"h","x":4700,"y":1.25},{"s":"V","b":"h","x":4852,"y":1.26},{"s":"V","b":"h","x":4861,"y":1.42},{"s":"V","b":"h","x":4870,"y":1.26},{"s":"V","b":"h","x":5100,"y":1.29},{"s":"V","b":"h","x":5300,"y":1.34},{"s":"V","b":"h","x":5500,"y":1.39},{"s":"V","b":"h","x":5700,"y":1.44},{"s":"V","b":"h","x":5900,"y":1.49},{"s":"V","b":"h","x":6100,"y":1.54},{"s":"V","b":"h","x":6300,"y":1.59},{"s":"V","b":"h","x":6500,"y":1.64},{"s":"V","b":"h","x":6563,"y":1.8},{"s":"V","b":"h","x":6600,"y":1.66},{"s":"V","b":"h","x":6700,"y":1.68},{"s":"V","b":"h","x":6900,"y":1.72},{"s":"V","b":"h","x":7100,"y":1.76},{"s":"V","b":"h","x":7300,"y":1.79},{"s":"V","b":"h","x":7500,"y":1.82},{"s":"V","b":"h","x":7700,"y":1.84},{"s":"V","b":"h","x":7900,"y":1.86},{"s":"V","b":"h","x":8100,"y":1.87},{"s":"V","b":"h","x":8300,"y":1.88},{"s":"V","b":"h","x":8500,"y":1.88},{"s":"V","b":"h","x":8700,"y":1.87},{"s":"V","b":"h","x":8800,"y":1.92},{"s":"V","b":"h","x":8900,"y":1.85},{"s":"V","b":"h","x":9000,"y":1.9},{"s":"V","b":"h","x":9100,"y":1.82},{"s":"V","b":"h","x":9185,"y":1.87},
{"s":"V","b":"l","x":3816,"y":1.22},{"s":"V","b":"l","x":3900,"y":1.18},{"s":"V","b":"l","x":4000,"y":1.13},{"s":"V","b":"l","x":4100,"y":1.09},{"s":"V","b":"l","x":4200,"y":1.07},{"s":"V","b":"l","x":4300,"y":1.05},{"s":"V","b":"l","x":4500,"y":1.04},{"s":"V","b":"l","x":4700,"y":1.04},{"s":"V","b":"l","x":4852,"y":1.04},{"s":"V","b":"l","x":4861,"y":0.95},{"s":"V","b":"l","x":4870,"y":1.05},{"s":"V","b":"l","x":5100,"y":1.08},{"s":"V","b":"l","x":5300,"y":1.13},{"s":"V","b":"l","x":5500,"y":1.18},{"s":"V","b":"l","x":5700,"y":1.23},{"s":"V","b":"l","x":5900,"y":1.28},{"s":"V","b":"l","x":6100,"y":1.33},{"s":"V","b":"l","x":6300,"y":1.38},{"s":"V","b":"l","x":6500,"y":1.43},{"s":"V","b":"l","x":6563,"y":1.3},{"s":"V","b":"l","x":6600,"y":1.46},{"s":"V","b":"l","x":6700,"y":1.47},{"s":"V","b":"l","x":6900,"y":1.51},{"s":"V","b":"l","x":7100,"y":1.55},{"s":"V","b":"l","x":7300,"y":1.58},{"s":"V","b":"l","x":7500,"y":1.61},{"s":"V","b":"l","x":7700,"y":1.63},{"s":"V","b":"l","x":7900,"y":1.65},{"s":"V","b":"l","x":8100,"y":1.66},{"s":"V","b":"l","x":8300,"y":1.67},{"s":"V","b":"l","x":8500,"y":1.67},{"s":"V","b":"l","x":8700,"y":1.66},{"s":"V","b":"l","x":8900,"y":1.63},{"s":"V","b":"l","x":9000,"y":1.58},{"s":"V","b":"l","x":9100,"y":1.62},{"s":"V","b":"l","x":9185,"y":1.6}
],
"labels": [
{"t":"B0.5 Ibe","x":9203,"y":12.78},{"t":"K5 Ve","x":9211,"y":11.01},{"t":"M7 IIIe","x":9203,"y":6.8},{"t":"carbon star","x":9003,"y":2.52},{"t":"CV star","x":9211,"y":1.01},{"t":"6x","x":5468,"y":6.02}
],
"arrow": [{"x":5318,"y":5.32,"y2":7.22,"yh":7.47}],
"xt": [{"v":4000},{"v":5000},{"v":6000},{"v":7000},{"v":8000},{"v":9000},{"v":10000}],
"yt": [{"v":2},{"v":4},{"v":6},{"v":8},{"v":10},{"v":12},{"v":14}]
},
"layer": [
{"data": {"name": "obs"}, "transform": [{"filter": "datum.s != 'B'"}],
 "mark": {"type": "line", "color": "black", "strokeWidth": 1.1},
 "encoding": {
  "x": {"field": "x", "type": "quantitative", "scale": {"domain": [3600, 10280], "nice": false, "zero": false},
   "axis": {"orient": "bottom", "values": [4000,5000,6000,7000,8000,9000,10000], "format": "d", "domain": false, "ticks": false, "labelFont": "Liberation Sans", "labelFontWeight": "bold", "labelFontSize": 24, "labelColor": "black", "labelPadding": 7, "labelFlush": false, "labelOverlap": false, "grid": true, "gridColor": "black", "gridDash": [2, 7], "gridWidth": 1.3, "title": "Wavelength", "titleFont": "DejaVu Sans", "titleFontWeight": "bold", "titleFontSize": 30, "titleColor": "black", "titleX": 397, "titleY": 58, "titleBaseline": "alphabetic"}},
  "y": {"field": "y", "type": "quantitative", "scale": {"domain": [0, 16], "nice": false, "zero": false},
   "axis": {"orient": "left", "values": [0,2,4,6,8,10,12,14,16], "format": "d", "domain": false, "ticks": false, "labelFont": "Liberation Sans", "labelFontWeight": "bold", "labelFontSize": 24, "labelColor": "black", "labelPadding": 7, "labelFlush": false, "labelOverlap": false, "grid": true, "gridColor": "black", "gridDash": [2, 7], "gridWidth": 1.3, "title": "Normalized Flux + Offset", "titleFont": "DejaVu Sans", "titleFontWeight": "bold", "titleFontSize": 33, "titleColor": "black", "titlePadding": 3, "titleY": 322}},
  "detail": {"field": "s"}}},
{"data": {"name": "obs"}, "transform": [{"filter": "datum.s == 'B'"}],
 "mark": {"type": "line", "color": "black", "strokeWidth": 4},
 "encoding": {
  "x": {"field": "x", "type": "quantitative", "scale": {"domain": [3600, 10280], "nice": false, "zero": false}},
  "y": {"field": "y", "type": "quantitative", "scale": {"domain": [0, 16], "nice": false, "zero": false}}}},
{"data": {"name": "fit"}, "transform": [{"filter": "datum.s != 'B'"}],
 "mark": {"type": "line", "color": "#ff0000", "strokeWidth": 1.5},
 "encoding": {
  "x": {"field": "x", "type": "quantitative", "scale": {"domain": [3600, 10280], "nice": false, "zero": false}},
  "y": {"field": "y", "type": "quantitative", "scale": {"domain": [0, 16], "nice": false, "zero": false}},
  "detail": {"field": "s"}}},
{"data": {"name": "fit"}, "transform": [{"filter": "datum.s == 'B'"}],
 "mark": {"type": "line", "color": "#ff0000", "strokeWidth": 4},
 "encoding": {
  "x": {"field": "x", "type": "quantitative", "scale": {"domain": [3600, 10280], "nice": false, "zero": false}},
  "y": {"field": "y", "type": "quantitative", "scale": {"domain": [0, 16], "nice": false, "zero": false}}}},
{"data": {"name": "band"}, "transform": [{"filter": "datum.s != 'B'"}],
 "mark": {"type": "line", "color": "#0000ff", "strokeWidth": 1.3, "strokeDash": [8, 5]},
 "encoding": {
  "x": {"field": "x", "type": "quantitative", "scale": {"domain": [3600, 10280], "nice": false, "zero": false}},
  "y": {"field": "y", "type": "quantitative", "scale": {"domain": [0, 16], "nice": false, "zero": false}},
  "detail": [{"field": "s"}, {"field": "b"}]}},
{"data": {"name": "band"}, "transform": [{"filter": "datum.s == 'B'"}],
 "mark": {"type": "line", "color": "#0000ff", "strokeWidth": 4, "strokeDash": [9, 7]},
 "encoding": {
  "x": {"field": "x", "type": "quantitative", "scale": {"domain": [3600, 10280], "nice": false, "zero": false}},
  "y": {"field": "y", "type": "quantitative", "scale": {"domain": [0, 16], "nice": false, "zero": false}},
  "detail": {"field": "b"}}},
{"data": {"name": "arrow"},
 "mark": {"type": "rule", "color": "#ff0000", "strokeWidth": 5},
 "encoding": {
  "x": {"field": "x", "type": "quantitative", "scale": {"domain": [3600, 10280], "nice": false, "zero": false}},
  "y": {"field": "y", "type": "quantitative", "scale": {"domain": [0, 16], "nice": false, "zero": false}},
  "y2": {"field": "y2"}}},
{"data": {"name": "arrow"},
 "mark": {"type": "point", "shape": "M0,-1L-0.8,1L0.8,1Z", "filled": true, "color": "#ff0000", "size": 625, "opacity": 1, "strokeWidth": 0},
 "encoding": {
  "x": {"field": "x", "type": "quantitative", "scale": {"domain": [3600, 10280], "nice": false, "zero": false}},
  "y": {"field": "yh", "type": "quantitative", "scale": {"domain": [0, 16], "nice": false, "zero": false}}}},
{"data": {"name": "labels"},
 "mark": {"type": "text", "color": "#ff0000", "font": "Liberation Sans", "fontWeight": "bold", "fontSize": 26, "align": "left", "baseline": "middle"},
 "encoding": {
  "x": {"field": "x", "type": "quantitative", "scale": {"domain": [3600, 10280], "nice": false, "zero": false}},
  "y": {"field": "y", "type": "quantitative", "scale": {"domain": [0, 16], "nice": false, "zero": false}},
  "text": {"field": "t"}}},
{"data": {"name": "xt"},
 "mark": {"type": "rule", "color": "black", "strokeWidth": 3.5},
 "encoding": {
  "x": {"field": "v", "type": "quantitative", "scale": {"domain": [3600, 10280], "nice": false, "zero": false}},
  "y": {"datum": 0, "type": "quantitative", "scale": {"domain": [0, 16], "nice": false, "zero": false}},
  "y2": {"datum": 0.35}}},
{"data": {"name": "xt"},
 "mark": {"type": "rule", "color": "black", "strokeWidth": 3.5},
 "encoding": {
  "x": {"field": "v", "type": "quantitative", "scale": {"domain": [3600, 10280], "nice": false, "zero": false}},
  "y": {"datum": 15.65, "type": "quantitative", "scale": {"domain": [0, 16], "nice": false, "zero": false}},
  "y2": {"datum": 16}}},
{"data": {"name": "yt"},
 "mark": {"type": "rule", "color": "black", "strokeWidth": 3.5},
 "encoding": {
  "y": {"field": "v", "type": "quantitative", "scale": {"domain": [0, 16], "nice": false, "zero": false}},
  "x": {"datum": 3600, "type": "quantitative", "scale": {"domain": [3600, 10280], "nice": false, "zero": false}},
  "x2": {"datum": 3715}}},
{"data": {"name": "yt"},
 "mark": {"type": "rule", "color": "black", "strokeWidth": 3.5},
 "encoding": {
  "y": {"field": "v", "type": "quantitative", "scale": {"domain": [0, 16], "nice": false, "zero": false}},
  "x": {"datum": 10165, "type": "quantitative", "scale": {"domain": [3600, 10280], "nice": false, "zero": false}},
  "x2": {"datum": 10280}}}
]
}
